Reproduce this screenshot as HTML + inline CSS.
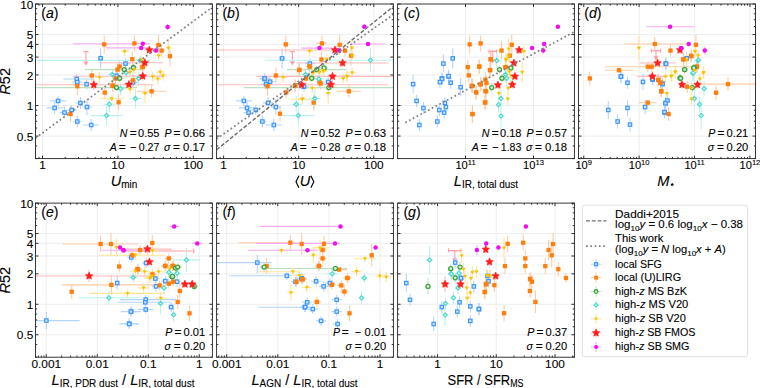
<!DOCTYPE html><html><head><meta charset="utf-8"><style>html,body{margin:0;padding:0;background:#fff;overflow:hidden}svg{display:block}</style></head><body><svg width="760" height="388" viewBox="0 0 760 388">
<style>
text{font-family:"Liberation Sans", sans-serif;fill:#000;stroke:#000;stroke-width:0.1px}
.tl{font-size:11.1px}
.gr{stroke:#ebebeb;stroke-width:0.9}
.tk{stroke:#000;stroke-width:0.8;fill:none}
.fr{stroke:#222;stroke-width:0.9;fill:none}
.al{font-size:14.6px}
.an{font-size:10.6px}
.pl{font-size:14.1px;font-style:italic}
.lg{font-size:10.4px}
.dt{stroke:#808080;stroke-width:1.75;stroke-dasharray:1.7 2.6;fill:none}
.ds{stroke:#6e6e6e;stroke-width:1.4;stroke-dasharray:3.9 1.9;fill:none}
.it{font-style:italic}
</style>
<rect width="760" height="388" fill="#fff"/>
<line x1="35.50" y1="136.08" x2="212.40" y2="136.08" class="gr"/>
<line x1="35.50" y1="105.52" x2="212.40" y2="105.52" class="gr"/>
<line x1="35.50" y1="74.96" x2="212.40" y2="74.96" class="gr"/>
<line x1="35.50" y1="57.08" x2="212.40" y2="57.08" class="gr"/>
<line x1="35.50" y1="44.40" x2="212.40" y2="44.40" class="gr"/>
<line x1="35.50" y1="34.56" x2="212.40" y2="34.56" class="gr"/>
<line x1="42.50" y1="4.00" x2="42.50" y2="158.60" class="gr"/>
<line x1="117.90" y1="4.00" x2="117.90" y2="158.60" class="gr"/>
<line x1="193.30" y1="4.00" x2="193.30" y2="158.60" class="gr"/>
<line x1="216.60" y1="136.08" x2="393.40" y2="136.08" class="gr"/>
<line x1="216.60" y1="105.52" x2="393.40" y2="105.52" class="gr"/>
<line x1="216.60" y1="74.96" x2="393.40" y2="74.96" class="gr"/>
<line x1="216.60" y1="57.08" x2="393.40" y2="57.08" class="gr"/>
<line x1="216.60" y1="44.40" x2="393.40" y2="44.40" class="gr"/>
<line x1="216.60" y1="34.56" x2="393.40" y2="34.56" class="gr"/>
<line x1="223.60" y1="4.00" x2="223.60" y2="158.60" class="gr"/>
<line x1="298.70" y1="4.00" x2="298.70" y2="158.60" class="gr"/>
<line x1="373.80" y1="4.00" x2="373.80" y2="158.60" class="gr"/>
<line x1="397.60" y1="136.08" x2="574.40" y2="136.08" class="gr"/>
<line x1="397.60" y1="105.52" x2="574.40" y2="105.52" class="gr"/>
<line x1="397.60" y1="74.96" x2="574.40" y2="74.96" class="gr"/>
<line x1="397.60" y1="57.08" x2="574.40" y2="57.08" class="gr"/>
<line x1="397.60" y1="44.40" x2="574.40" y2="44.40" class="gr"/>
<line x1="397.60" y1="34.56" x2="574.40" y2="34.56" class="gr"/>
<line x1="465.50" y1="4.00" x2="465.50" y2="158.60" class="gr"/>
<line x1="533.50" y1="4.00" x2="533.50" y2="158.60" class="gr"/>
<line x1="578.50" y1="136.08" x2="755.50" y2="136.08" class="gr"/>
<line x1="578.50" y1="105.52" x2="755.50" y2="105.52" class="gr"/>
<line x1="578.50" y1="74.96" x2="755.50" y2="74.96" class="gr"/>
<line x1="578.50" y1="57.08" x2="755.50" y2="57.08" class="gr"/>
<line x1="578.50" y1="44.40" x2="755.50" y2="44.40" class="gr"/>
<line x1="578.50" y1="34.56" x2="755.50" y2="34.56" class="gr"/>
<line x1="583.75" y1="4.00" x2="583.75" y2="158.60" class="gr"/>
<line x1="639.15" y1="4.00" x2="639.15" y2="158.60" class="gr"/>
<line x1="694.55" y1="4.00" x2="694.55" y2="158.60" class="gr"/>
<line x1="749.95" y1="4.00" x2="749.95" y2="158.60" class="gr"/>
<line x1="35.50" y1="334.75" x2="212.40" y2="334.75" class="gr"/>
<line x1="35.50" y1="304.29" x2="212.40" y2="304.29" class="gr"/>
<line x1="35.50" y1="273.83" x2="212.40" y2="273.83" class="gr"/>
<line x1="35.50" y1="256.01" x2="212.40" y2="256.01" class="gr"/>
<line x1="35.50" y1="243.37" x2="212.40" y2="243.37" class="gr"/>
<line x1="35.50" y1="233.56" x2="212.40" y2="233.56" class="gr"/>
<line x1="46.25" y1="203.10" x2="46.25" y2="357.20" class="gr"/>
<line x1="97.25" y1="203.10" x2="97.25" y2="357.20" class="gr"/>
<line x1="148.25" y1="203.10" x2="148.25" y2="357.20" class="gr"/>
<line x1="199.25" y1="203.10" x2="199.25" y2="357.20" class="gr"/>
<line x1="216.60" y1="334.75" x2="393.40" y2="334.75" class="gr"/>
<line x1="216.60" y1="304.29" x2="393.40" y2="304.29" class="gr"/>
<line x1="216.60" y1="273.83" x2="393.40" y2="273.83" class="gr"/>
<line x1="216.60" y1="256.01" x2="393.40" y2="256.01" class="gr"/>
<line x1="216.60" y1="243.37" x2="393.40" y2="243.37" class="gr"/>
<line x1="216.60" y1="233.56" x2="393.40" y2="233.56" class="gr"/>
<line x1="226.70" y1="203.10" x2="226.70" y2="357.20" class="gr"/>
<line x1="277.80" y1="203.10" x2="277.80" y2="357.20" class="gr"/>
<line x1="328.90" y1="203.10" x2="328.90" y2="357.20" class="gr"/>
<line x1="380.00" y1="203.10" x2="380.00" y2="357.20" class="gr"/>
<line x1="397.60" y1="334.75" x2="574.40" y2="334.75" class="gr"/>
<line x1="397.60" y1="304.29" x2="574.40" y2="304.29" class="gr"/>
<line x1="397.60" y1="273.83" x2="574.40" y2="273.83" class="gr"/>
<line x1="397.60" y1="256.01" x2="574.40" y2="256.01" class="gr"/>
<line x1="397.60" y1="243.37" x2="574.40" y2="243.37" class="gr"/>
<line x1="397.60" y1="233.56" x2="574.40" y2="233.56" class="gr"/>
<line x1="437.50" y1="203.10" x2="437.50" y2="357.20" class="gr"/>
<line x1="496.25" y1="203.10" x2="496.25" y2="357.20" class="gr"/>
<line x1="555.00" y1="203.10" x2="555.00" y2="357.20" class="gr"/>
<clipPath id="cpa"><rect x="35.50" y="4.00" width="176.90" height="154.60"/></clipPath>
<g clip-path="url(#cpa)">
<path d="M83.40 51.60h5M85.90 51.60V62.80" stroke="#ff9ea6" stroke-width="1.1" fill="none"/><path d="M83.30 61.50h5.2L85.90 65.80Z" fill="#ff9ea6"/>
<path d="M63.40 79.00H94.00M76.70 74.00V84.00" stroke="#b3d5fd" stroke-width="1.1" fill="none"/>
<path d="M72.30 82.10H82.30M77.30 77.10V87.10" stroke="#b3d5fd" stroke-width="1.1" fill="none"/>
<path d="M81.60 84.20H91.60M86.60 79.20V89.20" stroke="#b3d5fd" stroke-width="1.1" fill="none"/>
<path d="M50.10 100.90H66.10M58.10 95.90V105.90" stroke="#b3d5fd" stroke-width="1.1" fill="none"/>
<path d="M46.60 107.90H62.60M54.60 101.90V113.90" stroke="#b3d5fd" stroke-width="1.1" fill="none"/>
<path d="M59.50 112.60H69.50M64.50 106.60V118.60" stroke="#b3d5fd" stroke-width="1.1" fill="none"/>
<path d="M66.70 110.00H76.70M71.70 105.00V115.00" stroke="#b3d5fd" stroke-width="1.1" fill="none"/>
<path d="M75.40 103.00H85.40M80.40 97.00V109.00" stroke="#b3d5fd" stroke-width="1.1" fill="none"/>
<path d="M82.00 107.00H92.00M87.00 99.00V115.00" stroke="#b3d5fd" stroke-width="1.1" fill="none"/>
<path d="M73.30 121.50H81.30M77.30 115.50V127.50" stroke="#b3d5fd" stroke-width="1.1" fill="none"/>
<path d="M83.20 125.00H99.20M91.20 119.00V131.00" stroke="#b3d5fd" stroke-width="1.1" fill="none"/>
<path d="M97.60 58.20H103.60M100.60 48.20V68.20" stroke="#b3d5fd" stroke-width="1.1" fill="none"/>
<path d="M120.50 63.60H130.50M125.50 58.60V68.60" stroke="#b3d5fd" stroke-width="1.1" fill="none"/>
<path d="M128.00 82.40H138.00M133.00 77.40V87.40" stroke="#b3d5fd" stroke-width="1.1" fill="none"/>
<path d="M111.50 75.80H121.50M116.50 70.80V80.80" stroke="#b3d5fd" stroke-width="1.1" fill="none"/>
<path d="M101.20 44.40H107.20M104.20 35.40V53.40" stroke="#ffcaa3" stroke-width="1.1" fill="none"/>
<path d="M131.40 43.40H137.40M134.40 35.40V51.40" stroke="#ffcaa3" stroke-width="1.1" fill="none"/>
<path d="M155.50 45.00H161.50M158.50 35.00V55.00" stroke="#ffcaa3" stroke-width="1.1" fill="none"/>
<path d="M158.60 50.60H164.60M161.60 44.60V56.60" stroke="#ffcaa3" stroke-width="1.1" fill="none"/>
<path d="M168.00 56.20H172.00M170.00 46.20V66.20" stroke="#ffcaa3" stroke-width="1.1" fill="none"/>
<path d="M130.30 59.20H134.30M132.30 51.20V67.20" stroke="#ffcaa3" stroke-width="1.1" fill="none"/>
<path d="M139.60 67.00H145.60M142.60 61.00V73.00" stroke="#ffcaa3" stroke-width="1.1" fill="none"/>
<path d="M88.80 75.50H94.80M91.80 69.50V81.50" stroke="#ffcaa3" stroke-width="1.1" fill="none"/>
<path d="M75.30 86.20H79.30M77.30 77.20V95.20" stroke="#ffcaa3" stroke-width="1.1" fill="none"/>
<path d="M101.80 92.60H107.80M104.80 86.60V98.60" stroke="#ffcaa3" stroke-width="1.1" fill="none"/>
<path d="M109.60 85.80H115.60M112.60 79.80V91.80" stroke="#ffcaa3" stroke-width="1.1" fill="none"/>
<path d="M116.60 102.30H120.60M118.60 94.30V110.30" stroke="#ffcaa3" stroke-width="1.1" fill="none"/>
<path d="M68.50 114.10H72.50M70.50 106.10V122.10" stroke="#ffcaa3" stroke-width="1.1" fill="none"/>
<path d="M116.60 66.50H122.60M119.60 60.50V72.50" stroke="#ffcaa3" stroke-width="1.1" fill="none"/>
<path d="M114.50 69.60H120.50M117.50 63.60V75.60" stroke="#ffcaa3" stroke-width="1.1" fill="none"/>
<path d="M139.70 67.10H145.70M142.70 61.10V73.10" stroke="#ffcaa3" stroke-width="1.1" fill="none"/>
<path d="M130.00 80.30H136.00M133.00 74.30V86.30" stroke="#ffcaa3" stroke-width="1.1" fill="none"/>
<path d="M112.50 78.50H118.50M115.50 72.50V84.50" stroke="#ffcaa3" stroke-width="1.1" fill="none"/>
<path d="M109.80 85.50H115.80M112.80 79.50V91.50" stroke="#ffcaa3" stroke-width="1.1" fill="none"/>
<path d="M136.60 91.30H166.60M151.60 85.30V97.30" stroke="#ffcaa3" stroke-width="1.1" fill="none"/>
<path d="M107.40 74.40H117.40M112.40 68.40V80.40" stroke="#bbf2ec" stroke-width="1.1" fill="none"/>
<path d="M35.00 60.40H150.00M140.00 57.00V64.00" stroke="#bbf2ec" stroke-width="1.1" fill="none"/>
<path d="M121.20 72.70H131.20M126.20 66.70V78.70" stroke="#bbf2ec" stroke-width="1.1" fill="none"/>
<path d="M133.60 78.50H143.60M138.60 72.50V84.50" stroke="#bbf2ec" stroke-width="1.1" fill="none"/>
<path d="M115.60 88.80H125.60M120.60 82.80V94.80" stroke="#bbf2ec" stroke-width="1.1" fill="none"/>
<path d="M129.50 98.50H141.50M135.50 88.50V108.50" stroke="#bbf2ec" stroke-width="1.1" fill="none"/>
<path d="M103.30 104.30H115.30M109.30 96.30V112.30" stroke="#bbf2ec" stroke-width="1.1" fill="none"/>
<path d="M90.60 115.60H122.60M106.60 105.60V125.60" stroke="#bbf2ec" stroke-width="1.1" fill="none"/>
<path d="M84.80 69.60H141.60M124.20 66.00V73.00" stroke="#bde0bd" stroke-width="1.1" fill="none"/>
<path d="M129.40 67.50H137.40M133.40 63.50V71.50" stroke="#bde0bd" stroke-width="1.1" fill="none"/>
<path d="M115.60 78.30H123.60M119.60 74.30V82.30" stroke="#bde0bd" stroke-width="1.1" fill="none"/>
<path d="M35.00 87.60H137.00M116.50 84.00V91.00" stroke="#bde0bd" stroke-width="1.1" fill="none"/>
<path d="M120.70 51.60H128.70M124.70 46.60V56.60" stroke="#fde598" stroke-width="1.1" fill="none"/>
<path d="M166.40 48.10H170.40M168.40 39.10V57.10" stroke="#fde598" stroke-width="1.1" fill="none"/>
<path d="M154.70 55.70H162.70M158.70 50.70V60.70" stroke="#fde598" stroke-width="1.1" fill="none"/>
<path d="M137.20 59.90H145.20M141.20 54.90V64.90" stroke="#fde598" stroke-width="1.1" fill="none"/>
<path d="M156.20 72.30H164.20M160.20 67.30V77.30" stroke="#fde598" stroke-width="1.1" fill="none"/>
<path d="M95.40 77.50H103.40M99.40 72.50V82.50" stroke="#fde598" stroke-width="1.1" fill="none"/>
<path d="M99.80 98.80H123.80M111.80 94.80V102.80" stroke="#fde598" stroke-width="1.1" fill="none"/>
<path d="M130.00 69.60H138.00M134.00 64.60V74.60" stroke="#fde598" stroke-width="1.1" fill="none"/>
<path d="M148.60 76.80H156.60M152.60 71.80V81.80" stroke="#fde598" stroke-width="1.1" fill="none"/>
<path d="M153.80 78.90H161.80M157.80 73.90V83.90" stroke="#fde598" stroke-width="1.1" fill="none"/>
<path d="M159.00 75.80H167.00M163.00 70.80V80.80" stroke="#fde598" stroke-width="1.1" fill="none"/>
<path d="M126.00 72.30H134.00M130.00 67.30V77.30" stroke="#fde598" stroke-width="1.1" fill="none"/>
<path d="M142.00 93.40H148.00M145.00 83.40V103.40" stroke="#fde598" stroke-width="1.1" fill="none"/>
<path d="M126.00 89.20H134.00M130.00 84.20V94.20" stroke="#fde598" stroke-width="1.1" fill="none"/>
<path d="M144.40 50.00H154.40M149.40 46.00V54.00" stroke="#ffbaba" stroke-width="1.1" fill="none"/>
<path d="M99.00 62.80H163.00M144.80 58.00V67.00" stroke="#ffbaba" stroke-width="1.1" fill="none"/>
<path d="M72.90 76.20H164.00M142.70 71.00V81.00" stroke="#ffbaba" stroke-width="1.1" fill="none"/>
<path d="M123.90 84.50H133.90M128.90 80.50V88.50" stroke="#ffbaba" stroke-width="1.1" fill="none"/>
<path d="M35.00 84.80H153.50M93.80 79.00V90.00" stroke="#ffbaba" stroke-width="1.1" fill="none"/>
<path d="M164.60 27.00H170.60M167.60 24.00V30.00" stroke="#f8aaf8" stroke-width="1.1" fill="none"/>
<path d="M72.90 43.80H150.00M142.80 42.00V46.00" stroke="#f8aaf8" stroke-width="1.1" fill="none"/>
<path d="M106.00 47.90H150.00M141.20 46.00V50.00" stroke="#f8aaf8" stroke-width="1.1" fill="none"/>
<path d="M153.00 50.60H159.00M156.00 47.60V53.60" stroke="#f8aaf8" stroke-width="1.1" fill="none"/>
<rect x="75.00" y="77.30" width="3.40" height="3.40" fill="#cfe4ff" stroke="#3f97fb" stroke-width="1.2"/>
<rect x="75.60" y="80.40" width="3.40" height="3.40" fill="#cfe4ff" stroke="#3f97fb" stroke-width="1.2"/>
<rect x="84.90" y="82.50" width="3.40" height="3.40" fill="#cfe4ff" stroke="#3f97fb" stroke-width="1.2"/>
<rect x="56.40" y="99.20" width="3.40" height="3.40" fill="#cfe4ff" stroke="#3f97fb" stroke-width="1.2"/>
<rect x="52.90" y="106.20" width="3.40" height="3.40" fill="#cfe4ff" stroke="#3f97fb" stroke-width="1.2"/>
<rect x="62.80" y="110.90" width="3.40" height="3.40" fill="#cfe4ff" stroke="#3f97fb" stroke-width="1.2"/>
<rect x="70.00" y="108.30" width="3.40" height="3.40" fill="#cfe4ff" stroke="#3f97fb" stroke-width="1.2"/>
<rect x="78.70" y="101.30" width="3.40" height="3.40" fill="#cfe4ff" stroke="#3f97fb" stroke-width="1.2"/>
<rect x="85.30" y="105.30" width="3.40" height="3.40" fill="#cfe4ff" stroke="#3f97fb" stroke-width="1.2"/>
<rect x="75.60" y="119.80" width="3.40" height="3.40" fill="#cfe4ff" stroke="#3f97fb" stroke-width="1.2"/>
<rect x="89.50" y="123.30" width="3.40" height="3.40" fill="#cfe4ff" stroke="#3f97fb" stroke-width="1.2"/>
<rect x="98.90" y="56.50" width="3.40" height="3.40" fill="#cfe4ff" stroke="#3f97fb" stroke-width="1.2"/>
<rect x="123.80" y="61.90" width="3.40" height="3.40" fill="#cfe4ff" stroke="#3f97fb" stroke-width="1.2"/>
<rect x="131.30" y="80.70" width="3.40" height="3.40" fill="#cfe4ff" stroke="#3f97fb" stroke-width="1.2"/>
<rect x="114.80" y="74.10" width="3.40" height="3.40" fill="#cfe4ff" stroke="#3f97fb" stroke-width="1.2"/>
<rect x="102.05" y="42.25" width="4.30" height="4.30" fill="#ff7f0e"/>
<rect x="132.25" y="41.25" width="4.30" height="4.30" fill="#ff7f0e"/>
<rect x="156.35" y="42.85" width="4.30" height="4.30" fill="#ff7f0e"/>
<rect x="159.45" y="48.45" width="4.30" height="4.30" fill="#ff7f0e"/>
<rect x="167.85" y="54.05" width="4.30" height="4.30" fill="#ff7f0e"/>
<rect x="130.15" y="57.05" width="4.30" height="4.30" fill="#ff7f0e"/>
<rect x="140.45" y="64.85" width="4.30" height="4.30" fill="#ff7f0e"/>
<rect x="89.65" y="73.35" width="4.30" height="4.30" fill="#ff7f0e"/>
<rect x="75.15" y="84.05" width="4.30" height="4.30" fill="#ff7f0e"/>
<rect x="102.65" y="90.45" width="4.30" height="4.30" fill="#ff7f0e"/>
<rect x="110.45" y="83.65" width="4.30" height="4.30" fill="#ff7f0e"/>
<rect x="116.45" y="100.15" width="4.30" height="4.30" fill="#ff7f0e"/>
<rect x="68.35" y="111.95" width="4.30" height="4.30" fill="#ff7f0e"/>
<rect x="117.45" y="64.35" width="4.30" height="4.30" fill="#ff7f0e"/>
<rect x="115.35" y="67.45" width="4.30" height="4.30" fill="#ff7f0e"/>
<rect x="140.55" y="64.95" width="4.30" height="4.30" fill="#ff7f0e"/>
<rect x="130.85" y="78.15" width="4.30" height="4.30" fill="#ff7f0e"/>
<rect x="113.35" y="76.35" width="4.30" height="4.30" fill="#ff7f0e"/>
<rect x="110.65" y="83.35" width="4.30" height="4.30" fill="#ff7f0e"/>
<rect x="149.45" y="89.15" width="4.30" height="4.30" fill="#ff7f0e"/>
<path d="M112.40 72.30L114.50 74.40L112.40 76.50L110.30 74.40Z" fill="#d8f7f3" stroke="#4fd9cc" stroke-width="1.2"/>
<path d="M140.00 58.30L142.10 60.40L140.00 62.50L137.90 60.40Z" fill="#d8f7f3" stroke="#4fd9cc" stroke-width="1.2"/>
<path d="M126.20 70.60L128.30 72.70L126.20 74.80L124.10 72.70Z" fill="#d8f7f3" stroke="#4fd9cc" stroke-width="1.2"/>
<path d="M138.60 76.40L140.70 78.50L138.60 80.60L136.50 78.50Z" fill="#d8f7f3" stroke="#4fd9cc" stroke-width="1.2"/>
<path d="M120.60 86.70L122.70 88.80L120.60 90.90L118.50 88.80Z" fill="#d8f7f3" stroke="#4fd9cc" stroke-width="1.2"/>
<path d="M135.50 96.40L137.60 98.50L135.50 100.60L133.40 98.50Z" fill="#d8f7f3" stroke="#4fd9cc" stroke-width="1.2"/>
<path d="M109.30 102.20L111.40 104.30L109.30 106.40L107.20 104.30Z" fill="#d8f7f3" stroke="#4fd9cc" stroke-width="1.2"/>
<path d="M106.60 113.50L108.70 115.60L106.60 117.70L104.50 115.60Z" fill="#d8f7f3" stroke="#4fd9cc" stroke-width="1.2"/>
<circle cx="124.20" cy="69.60" r="2.05" fill="#d5ecd5" stroke="#3fa33f" stroke-width="1.3"/>
<circle cx="133.40" cy="67.50" r="2.05" fill="#d5ecd5" stroke="#3fa33f" stroke-width="1.3"/>
<circle cx="119.60" cy="78.30" r="2.05" fill="#d5ecd5" stroke="#3fa33f" stroke-width="1.3"/>
<circle cx="116.50" cy="87.60" r="2.05" fill="#d5ecd5" stroke="#3fa33f" stroke-width="1.3"/>
<path d="M122.70 50.10L126.70 50.10L124.70 53.60Z" fill="#f5c400"/>
<path d="M166.40 46.60L170.40 46.60L168.40 50.10Z" fill="#f5c400"/>
<path d="M156.70 54.20L160.70 54.20L158.70 57.70Z" fill="#f5c400"/>
<path d="M139.20 58.40L143.20 58.40L141.20 61.90Z" fill="#f5c400"/>
<path d="M158.20 70.80L162.20 70.80L160.20 74.30Z" fill="#f5c400"/>
<path d="M97.40 76.00L101.40 76.00L99.40 79.50Z" fill="#f5c400"/>
<path d="M109.80 97.30L113.80 97.30L111.80 100.80Z" fill="#f5c400"/>
<path d="M132.00 68.10L136.00 68.10L134.00 71.60Z" fill="#f5c400"/>
<path d="M150.60 75.30L154.60 75.30L152.60 78.80Z" fill="#f5c400"/>
<path d="M155.80 77.40L159.80 77.40L157.80 80.90Z" fill="#f5c400"/>
<path d="M161.00 74.30L165.00 74.30L163.00 77.80Z" fill="#f5c400"/>
<path d="M128.00 70.80L132.00 70.80L130.00 74.30Z" fill="#f5c400"/>
<path d="M143.00 91.90L147.00 91.90L145.00 95.40Z" fill="#f5c400"/>
<path d="M128.00 87.70L132.00 87.70L130.00 91.20Z" fill="#f5c400"/>
<polygon points="149.40,46.00 150.58,48.38 153.20,48.76 151.30,50.62 151.75,53.24 149.40,52.00 147.05,53.24 147.50,50.62 145.60,48.76 148.22,48.38" fill="#ff1f1f" stroke="#ff1f1f" stroke-width="0.5" stroke-linejoin="round"/>
<polygon points="144.80,58.80 145.98,61.18 148.60,61.56 146.70,63.42 147.15,66.04 144.80,64.80 142.45,66.04 142.90,63.42 141.00,61.56 143.62,61.18" fill="#ff1f1f" stroke="#ff1f1f" stroke-width="0.5" stroke-linejoin="round"/>
<polygon points="142.70,72.20 143.88,74.58 146.50,74.96 144.60,76.82 145.05,79.44 142.70,78.20 140.35,79.44 140.80,76.82 138.90,74.96 141.52,74.58" fill="#ff1f1f" stroke="#ff1f1f" stroke-width="0.5" stroke-linejoin="round"/>
<polygon points="128.90,80.50 130.08,82.88 132.70,83.26 130.80,85.12 131.25,87.74 128.90,86.50 126.55,87.74 127.00,85.12 125.10,83.26 127.72,82.88" fill="#ff1f1f" stroke="#ff1f1f" stroke-width="0.5" stroke-linejoin="round"/>
<polygon points="93.80,80.80 94.98,83.18 97.60,83.56 95.70,85.42 96.15,88.04 93.80,86.80 91.45,88.04 91.90,85.42 90.00,83.56 92.62,83.18" fill="#ff1f1f" stroke="#ff1f1f" stroke-width="0.5" stroke-linejoin="round"/>
<circle cx="167.60" cy="27.00" r="2.25" fill="#ee11ee"/>
<circle cx="142.80" cy="43.80" r="2.25" fill="#ee11ee"/>
<circle cx="141.20" cy="47.90" r="2.25" fill="#ee11ee"/>
<circle cx="156.00" cy="50.60" r="2.25" fill="#ee11ee"/>
<line x1="35.50" y1="138.11" x2="212.40" y2="7.11" class="dt"/>
</g>
<clipPath id="cpb"><rect x="216.60" y="4.00" width="176.80" height="154.60"/></clipPath>
<g clip-path="url(#cpb)">
<path d="M289.90 51.60h5M292.40 51.60V62.50" stroke="#ff9ea6" stroke-width="1.1" fill="none"/><path d="M289.80 61.20h5.2L292.40 65.50Z" fill="#ff9ea6"/>
<path d="M259.50 79.00H269.50M264.50 74.00V84.00" stroke="#b3d5fd" stroke-width="1.1" fill="none"/>
<path d="M265.10 81.70H275.10M270.10 76.70V86.70" stroke="#b3d5fd" stroke-width="1.1" fill="none"/>
<path d="M261.00 84.20H271.00M266.00 79.20V89.20" stroke="#b3d5fd" stroke-width="1.1" fill="none"/>
<path d="M235.90 100.90H251.90M243.90 95.90V105.90" stroke="#b3d5fd" stroke-width="1.1" fill="none"/>
<path d="M239.00 107.90H255.00M247.00 101.90V113.90" stroke="#b3d5fd" stroke-width="1.1" fill="none"/>
<path d="M243.60 112.60H253.60M248.60 106.60V118.60" stroke="#b3d5fd" stroke-width="1.1" fill="none"/>
<path d="M250.80 110.00H260.80M255.80 105.00V115.00" stroke="#b3d5fd" stroke-width="1.1" fill="none"/>
<path d="M263.00 102.90H273.00M268.00 96.90V108.90" stroke="#b3d5fd" stroke-width="1.1" fill="none"/>
<path d="M270.90 107.10H280.90M275.90 99.10V115.10" stroke="#b3d5fd" stroke-width="1.1" fill="none"/>
<path d="M258.40 121.50H266.40M262.40 115.50V127.50" stroke="#b3d5fd" stroke-width="1.1" fill="none"/>
<path d="M265.80 125.00H281.80M273.80 119.00V131.00" stroke="#b3d5fd" stroke-width="1.1" fill="none"/>
<path d="M279.10 58.40H285.10M282.10 48.40V68.40" stroke="#b3d5fd" stroke-width="1.1" fill="none"/>
<path d="M304.80 63.60H314.80M309.80 58.60V68.60" stroke="#b3d5fd" stroke-width="1.1" fill="none"/>
<path d="M323.20 82.00H333.20M328.20 77.00V87.00" stroke="#b3d5fd" stroke-width="1.1" fill="none"/>
<path d="M299.00 86.70H309.00M304.00 81.70V91.70" stroke="#b3d5fd" stroke-width="1.1" fill="none"/>
<path d="M259.70 78.40H269.70M264.70 73.40V83.40" stroke="#b3d5fd" stroke-width="1.1" fill="none"/>
<path d="M282.80 44.40H288.80M285.80 35.40V53.40" stroke="#ffcaa3" stroke-width="1.1" fill="none"/>
<path d="M317.00 43.40H327.00M322.00 35.40V51.40" stroke="#ffcaa3" stroke-width="1.1" fill="none"/>
<path d="M336.70 44.80H342.70M339.70 34.80V54.80" stroke="#ffcaa3" stroke-width="1.1" fill="none"/>
<path d="M341.90 50.60H347.90M344.90 44.60V56.60" stroke="#ffcaa3" stroke-width="1.1" fill="none"/>
<path d="M349.10 55.70H353.10M351.10 45.70V65.70" stroke="#ffcaa3" stroke-width="1.1" fill="none"/>
<path d="M319.50 59.50H323.50M321.50 51.50V67.50" stroke="#ffcaa3" stroke-width="1.1" fill="none"/>
<path d="M306.80 66.50H312.80M309.80 60.50V72.50" stroke="#ffcaa3" stroke-width="1.1" fill="none"/>
<path d="M273.90 75.50H277.90M275.90 67.50V83.50" stroke="#ffcaa3" stroke-width="1.1" fill="none"/>
<path d="M296.20 69.90H302.20M299.20 63.90V75.90" stroke="#ffcaa3" stroke-width="1.1" fill="none"/>
<path d="M265.60 86.20H269.60M267.60 76.20V96.20" stroke="#ffcaa3" stroke-width="1.1" fill="none"/>
<path d="M292.10 85.80H298.10M295.10 79.80V91.80" stroke="#ffcaa3" stroke-width="1.1" fill="none"/>
<path d="M283.20 92.40H289.20M286.20 86.40V98.40" stroke="#ffcaa3" stroke-width="1.1" fill="none"/>
<path d="M278.00 113.70H282.00M280.00 105.70V121.70" stroke="#ffcaa3" stroke-width="1.1" fill="none"/>
<path d="M306.60 66.50H312.60M309.60 60.50V72.50" stroke="#ffcaa3" stroke-width="1.1" fill="none"/>
<path d="M296.30 70.00H302.30M299.30 64.00V76.00" stroke="#ffcaa3" stroke-width="1.1" fill="none"/>
<path d="M303.10 78.50H309.10M306.10 72.50V84.50" stroke="#ffcaa3" stroke-width="1.1" fill="none"/>
<path d="M316.50 82.00H322.50M319.50 76.00V88.00" stroke="#ffcaa3" stroke-width="1.1" fill="none"/>
<path d="M317.60 83.40H323.60M320.60 77.40V89.40" stroke="#ffcaa3" stroke-width="1.1" fill="none"/>
<path d="M292.20 85.50H298.20M295.20 79.50V91.50" stroke="#ffcaa3" stroke-width="1.1" fill="none"/>
<path d="M336.80 91.30H360.80M348.80 85.30V97.30" stroke="#ffcaa3" stroke-width="1.1" fill="none"/>
<path d="M311.70 102.60H315.70M313.70 94.60V110.60" stroke="#ffcaa3" stroke-width="1.1" fill="none"/>
<path d="M264.50 60.30H394.00M370.50 48.50V71.20" stroke="#bbf2ec" stroke-width="1.1" fill="none"/>
<path d="M300.50 74.40H310.50M305.50 68.40V80.40" stroke="#bbf2ec" stroke-width="1.1" fill="none"/>
<path d="M313.90 78.90H323.90M318.90 72.90V84.90" stroke="#bbf2ec" stroke-width="1.1" fill="none"/>
<path d="M308.80 98.50H320.80M314.80 88.50V108.50" stroke="#bbf2ec" stroke-width="1.1" fill="none"/>
<path d="M290.20 104.30H302.20M296.20 96.30V112.30" stroke="#bbf2ec" stroke-width="1.1" fill="none"/>
<path d="M282.30 115.60H314.30M298.30 105.60V125.60" stroke="#bbf2ec" stroke-width="1.1" fill="none"/>
<path d="M286.80 69.60H346.80M316.80 65.60V73.60" stroke="#bde0bd" stroke-width="1.1" fill="none"/>
<path d="M320.10 68.00H328.10M324.10 64.00V72.00" stroke="#bde0bd" stroke-width="1.1" fill="none"/>
<path d="M307.70 78.30H315.70M311.70 74.30V82.30" stroke="#bde0bd" stroke-width="1.1" fill="none"/>
<path d="M243.80 87.60H413.80M328.80 83.60V91.60" stroke="#bde0bd" stroke-width="1.1" fill="none"/>
<path d="M305.80 51.20H313.80M309.80 46.20V56.20" stroke="#fde598" stroke-width="1.1" fill="none"/>
<path d="M349.90 48.10H353.90M351.90 39.10V57.10" stroke="#fde598" stroke-width="1.1" fill="none"/>
<path d="M322.70 59.20H330.70M326.70 54.20V64.20" stroke="#fde598" stroke-width="1.1" fill="none"/>
<path d="M348.10 72.70H356.10M352.10 67.70V77.70" stroke="#fde598" stroke-width="1.1" fill="none"/>
<path d="M309.30 72.70H317.30M313.30 67.70V77.70" stroke="#fde598" stroke-width="1.1" fill="none"/>
<path d="M319.60 71.20H327.60M323.60 66.20V76.20" stroke="#fde598" stroke-width="1.1" fill="none"/>
<path d="M343.40 76.40H351.40M347.40 71.40V81.40" stroke="#fde598" stroke-width="1.1" fill="none"/>
<path d="M339.20 78.40H347.20M343.20 73.40V83.40" stroke="#fde598" stroke-width="1.1" fill="none"/>
<path d="M279.10 77.50H287.10M283.10 72.50V82.50" stroke="#fde598" stroke-width="1.1" fill="none"/>
<path d="M290.30 99.20H314.30M302.30 95.20V103.20" stroke="#fde598" stroke-width="1.1" fill="none"/>
<path d="M347.90 55.80H355.90M351.90 50.80V60.80" stroke="#fde598" stroke-width="1.1" fill="none"/>
<path d="M342.80 76.20H350.80M346.80 71.20V81.20" stroke="#fde598" stroke-width="1.1" fill="none"/>
<path d="M319.00 70.60H327.00M323.00 65.60V75.60" stroke="#fde598" stroke-width="1.1" fill="none"/>
<path d="M309.10 72.70H317.10M313.10 67.70V77.70" stroke="#fde598" stroke-width="1.1" fill="none"/>
<path d="M315.50 72.30H323.50M319.50 67.30V77.30" stroke="#fde598" stroke-width="1.1" fill="none"/>
<path d="M308.30 88.20H316.30M312.30 83.20V93.20" stroke="#fde598" stroke-width="1.1" fill="none"/>
<path d="M325.20 93.40H331.20M328.20 83.40V103.40" stroke="#fde598" stroke-width="1.1" fill="none"/>
<path d="M298.40 99.10H306.40M302.40 94.10V104.10" stroke="#fde598" stroke-width="1.1" fill="none"/>
<path d="M216.00 50.00H340.00M335.00 46.00V54.00" stroke="#ffbaba" stroke-width="1.1" fill="none"/>
<path d="M296.60 63.00H388.60M342.60 59.00V67.00" stroke="#ffbaba" stroke-width="1.1" fill="none"/>
<path d="M256.50 76.40H408.50M332.50 71.40V81.40" stroke="#ffbaba" stroke-width="1.1" fill="none"/>
<path d="M325.90 84.50H335.90M330.90 80.50V88.50" stroke="#ffbaba" stroke-width="1.1" fill="none"/>
<path d="M215.70 84.80H387.70M301.70 79.80V89.80" stroke="#ffbaba" stroke-width="1.1" fill="none"/>
<path d="M361.30 26.80H367.30M364.30 23.80V29.80" stroke="#f8aaf8" stroke-width="1.1" fill="none"/>
<path d="M351.00 44.00H385.00M368.00 42.00V46.00" stroke="#f8aaf8" stroke-width="1.1" fill="none"/>
<path d="M301.50 48.10H337.50M319.50 46.10V50.10" stroke="#f8aaf8" stroke-width="1.1" fill="none"/>
<path d="M336.10 50.60H342.10M339.10 47.60V53.60" stroke="#f8aaf8" stroke-width="1.1" fill="none"/>
<rect x="262.80" y="77.30" width="3.40" height="3.40" fill="#cfe4ff" stroke="#3f97fb" stroke-width="1.2"/>
<rect x="268.40" y="80.00" width="3.40" height="3.40" fill="#cfe4ff" stroke="#3f97fb" stroke-width="1.2"/>
<rect x="264.30" y="82.50" width="3.40" height="3.40" fill="#cfe4ff" stroke="#3f97fb" stroke-width="1.2"/>
<rect x="242.20" y="99.20" width="3.40" height="3.40" fill="#cfe4ff" stroke="#3f97fb" stroke-width="1.2"/>
<rect x="245.30" y="106.20" width="3.40" height="3.40" fill="#cfe4ff" stroke="#3f97fb" stroke-width="1.2"/>
<rect x="246.90" y="110.90" width="3.40" height="3.40" fill="#cfe4ff" stroke="#3f97fb" stroke-width="1.2"/>
<rect x="254.10" y="108.30" width="3.40" height="3.40" fill="#cfe4ff" stroke="#3f97fb" stroke-width="1.2"/>
<rect x="266.30" y="101.20" width="3.40" height="3.40" fill="#cfe4ff" stroke="#3f97fb" stroke-width="1.2"/>
<rect x="274.20" y="105.40" width="3.40" height="3.40" fill="#cfe4ff" stroke="#3f97fb" stroke-width="1.2"/>
<rect x="260.70" y="119.80" width="3.40" height="3.40" fill="#cfe4ff" stroke="#3f97fb" stroke-width="1.2"/>
<rect x="272.10" y="123.30" width="3.40" height="3.40" fill="#cfe4ff" stroke="#3f97fb" stroke-width="1.2"/>
<rect x="280.40" y="56.70" width="3.40" height="3.40" fill="#cfe4ff" stroke="#3f97fb" stroke-width="1.2"/>
<rect x="308.10" y="61.90" width="3.40" height="3.40" fill="#cfe4ff" stroke="#3f97fb" stroke-width="1.2"/>
<rect x="326.50" y="80.30" width="3.40" height="3.40" fill="#cfe4ff" stroke="#3f97fb" stroke-width="1.2"/>
<rect x="302.30" y="85.00" width="3.40" height="3.40" fill="#cfe4ff" stroke="#3f97fb" stroke-width="1.2"/>
<rect x="263.00" y="76.70" width="3.40" height="3.40" fill="#cfe4ff" stroke="#3f97fb" stroke-width="1.2"/>
<rect x="283.65" y="42.25" width="4.30" height="4.30" fill="#ff7f0e"/>
<rect x="319.85" y="41.25" width="4.30" height="4.30" fill="#ff7f0e"/>
<rect x="337.55" y="42.65" width="4.30" height="4.30" fill="#ff7f0e"/>
<rect x="342.75" y="48.45" width="4.30" height="4.30" fill="#ff7f0e"/>
<rect x="348.95" y="53.55" width="4.30" height="4.30" fill="#ff7f0e"/>
<rect x="319.35" y="57.35" width="4.30" height="4.30" fill="#ff7f0e"/>
<rect x="307.65" y="64.35" width="4.30" height="4.30" fill="#ff7f0e"/>
<rect x="273.75" y="73.35" width="4.30" height="4.30" fill="#ff7f0e"/>
<rect x="297.05" y="67.75" width="4.30" height="4.30" fill="#ff7f0e"/>
<rect x="265.45" y="84.05" width="4.30" height="4.30" fill="#ff7f0e"/>
<rect x="292.95" y="83.65" width="4.30" height="4.30" fill="#ff7f0e"/>
<rect x="284.05" y="90.25" width="4.30" height="4.30" fill="#ff7f0e"/>
<rect x="277.85" y="111.55" width="4.30" height="4.30" fill="#ff7f0e"/>
<rect x="307.45" y="64.35" width="4.30" height="4.30" fill="#ff7f0e"/>
<rect x="297.15" y="67.85" width="4.30" height="4.30" fill="#ff7f0e"/>
<rect x="303.95" y="76.35" width="4.30" height="4.30" fill="#ff7f0e"/>
<rect x="317.35" y="79.85" width="4.30" height="4.30" fill="#ff7f0e"/>
<rect x="318.45" y="81.25" width="4.30" height="4.30" fill="#ff7f0e"/>
<rect x="293.05" y="83.35" width="4.30" height="4.30" fill="#ff7f0e"/>
<rect x="346.65" y="89.15" width="4.30" height="4.30" fill="#ff7f0e"/>
<rect x="311.55" y="100.45" width="4.30" height="4.30" fill="#ff7f0e"/>
<path d="M370.50 58.20L372.60 60.30L370.50 62.40L368.40 60.30Z" fill="#d8f7f3" stroke="#4fd9cc" stroke-width="1.2"/>
<path d="M305.50 72.30L307.60 74.40L305.50 76.50L303.40 74.40Z" fill="#d8f7f3" stroke="#4fd9cc" stroke-width="1.2"/>
<path d="M318.90 76.80L321.00 78.90L318.90 81.00L316.80 78.90Z" fill="#d8f7f3" stroke="#4fd9cc" stroke-width="1.2"/>
<path d="M314.80 96.40L316.90 98.50L314.80 100.60L312.70 98.50Z" fill="#d8f7f3" stroke="#4fd9cc" stroke-width="1.2"/>
<path d="M296.20 102.20L298.30 104.30L296.20 106.40L294.10 104.30Z" fill="#d8f7f3" stroke="#4fd9cc" stroke-width="1.2"/>
<path d="M298.30 113.50L300.40 115.60L298.30 117.70L296.20 115.60Z" fill="#d8f7f3" stroke="#4fd9cc" stroke-width="1.2"/>
<circle cx="316.80" cy="69.60" r="2.05" fill="#d5ecd5" stroke="#3fa33f" stroke-width="1.3"/>
<circle cx="324.10" cy="68.00" r="2.05" fill="#d5ecd5" stroke="#3fa33f" stroke-width="1.3"/>
<circle cx="311.70" cy="78.30" r="2.05" fill="#d5ecd5" stroke="#3fa33f" stroke-width="1.3"/>
<circle cx="328.80" cy="87.60" r="2.05" fill="#d5ecd5" stroke="#3fa33f" stroke-width="1.3"/>
<path d="M307.80 49.70L311.80 49.70L309.80 53.20Z" fill="#f5c400"/>
<path d="M349.90 46.60L353.90 46.60L351.90 50.10Z" fill="#f5c400"/>
<path d="M324.70 57.70L328.70 57.70L326.70 61.20Z" fill="#f5c400"/>
<path d="M350.10 71.20L354.10 71.20L352.10 74.70Z" fill="#f5c400"/>
<path d="M311.30 71.20L315.30 71.20L313.30 74.70Z" fill="#f5c400"/>
<path d="M321.60 69.70L325.60 69.70L323.60 73.20Z" fill="#f5c400"/>
<path d="M345.40 74.90L349.40 74.90L347.40 78.40Z" fill="#f5c400"/>
<path d="M341.20 76.90L345.20 76.90L343.20 80.40Z" fill="#f5c400"/>
<path d="M281.10 76.00L285.10 76.00L283.10 79.50Z" fill="#f5c400"/>
<path d="M300.30 97.70L304.30 97.70L302.30 101.20Z" fill="#f5c400"/>
<path d="M349.90 54.30L353.90 54.30L351.90 57.80Z" fill="#f5c400"/>
<path d="M344.80 74.70L348.80 74.70L346.80 78.20Z" fill="#f5c400"/>
<path d="M321.00 69.10L325.00 69.10L323.00 72.60Z" fill="#f5c400"/>
<path d="M311.10 71.20L315.10 71.20L313.10 74.70Z" fill="#f5c400"/>
<path d="M317.50 70.80L321.50 70.80L319.50 74.30Z" fill="#f5c400"/>
<path d="M310.30 86.70L314.30 86.70L312.30 90.20Z" fill="#f5c400"/>
<path d="M326.20 91.90L330.20 91.90L328.20 95.40Z" fill="#f5c400"/>
<path d="M300.40 97.60L304.40 97.60L302.40 101.10Z" fill="#f5c400"/>
<polygon points="335.00,46.00 336.18,48.38 338.80,48.76 336.90,50.62 337.35,53.24 335.00,52.00 332.65,53.24 333.10,50.62 331.20,48.76 333.82,48.38" fill="#ff1f1f" stroke="#ff1f1f" stroke-width="0.5" stroke-linejoin="round"/>
<polygon points="342.60,59.00 343.78,61.38 346.40,61.76 344.50,63.62 344.95,66.24 342.60,65.00 340.25,66.24 340.70,63.62 338.80,61.76 341.42,61.38" fill="#ff1f1f" stroke="#ff1f1f" stroke-width="0.5" stroke-linejoin="round"/>
<polygon points="332.50,72.40 333.68,74.78 336.30,75.16 334.40,77.02 334.85,79.64 332.50,78.40 330.15,79.64 330.60,77.02 328.70,75.16 331.32,74.78" fill="#ff1f1f" stroke="#ff1f1f" stroke-width="0.5" stroke-linejoin="round"/>
<polygon points="330.90,80.50 332.08,82.88 334.70,83.26 332.80,85.12 333.25,87.74 330.90,86.50 328.55,87.74 329.00,85.12 327.10,83.26 329.72,82.88" fill="#ff1f1f" stroke="#ff1f1f" stroke-width="0.5" stroke-linejoin="round"/>
<polygon points="301.70,80.80 302.88,83.18 305.50,83.56 303.60,85.42 304.05,88.04 301.70,86.80 299.35,88.04 299.80,85.42 297.90,83.56 300.52,83.18" fill="#ff1f1f" stroke="#ff1f1f" stroke-width="0.5" stroke-linejoin="round"/>
<circle cx="364.30" cy="26.80" r="2.25" fill="#ee11ee"/>
<circle cx="368.00" cy="44.00" r="2.25" fill="#ee11ee"/>
<circle cx="319.50" cy="48.10" r="2.25" fill="#ee11ee"/>
<circle cx="339.10" cy="50.60" r="2.25" fill="#ee11ee"/>
<line x1="216.60" y1="149.77" x2="393.40" y2="6.38" class="ds"/>
<line x1="216.60" y1="138.86" x2="393.40" y2="14.59" class="dt"/>
</g>
<clipPath id="cpc"><rect x="397.60" y="4.00" width="176.80" height="154.60"/></clipPath>
<g clip-path="url(#cpc)">
<path d="M490.30 51.40h5M492.80 51.40V60.50" stroke="#ff9ea6" stroke-width="1.1" fill="none"/><path d="M490.20 59.20h5.2L492.80 63.50Z" fill="#ff9ea6"/><path d="M489.00 51.40H496.60M489.00 49.40v4M496.60 49.40v4" stroke="#ff9ea6" stroke-width="1.1" fill="none"/>
<path d="M450.70 58.40H454.70M452.70 48.40V68.40" stroke="#b3d5fd" stroke-width="1.1" fill="none"/>
<path d="M441.40 63.60H445.40M443.40 54.60V72.60" stroke="#b3d5fd" stroke-width="1.1" fill="none"/>
<path d="M446.60 76.40H450.60M448.60 70.40V82.40" stroke="#b3d5fd" stroke-width="1.1" fill="none"/>
<path d="M440.00 78.40H444.00M442.00 72.40V84.40" stroke="#b3d5fd" stroke-width="1.1" fill="none"/>
<path d="M411.10 84.20H415.10M413.10 75.20V93.20" stroke="#b3d5fd" stroke-width="1.1" fill="none"/>
<path d="M440.00 79.00H444.00M442.00 73.00V85.00" stroke="#b3d5fd" stroke-width="1.1" fill="none"/>
<path d="M437.90 82.10H441.90M439.90 76.10V88.10" stroke="#b3d5fd" stroke-width="1.1" fill="none"/>
<path d="M446.60 76.10H450.60M448.60 70.10V82.10" stroke="#b3d5fd" stroke-width="1.1" fill="none"/>
<path d="M448.70 82.70H452.70M450.70 76.70V88.70" stroke="#b3d5fd" stroke-width="1.1" fill="none"/>
<path d="M458.60 87.20H462.60M460.60 78.20V96.20" stroke="#b3d5fd" stroke-width="1.1" fill="none"/>
<path d="M414.60 100.90H418.60M416.60 94.90V106.90" stroke="#b3d5fd" stroke-width="1.1" fill="none"/>
<path d="M421.40 108.10H425.40M423.40 102.10V114.10" stroke="#b3d5fd" stroke-width="1.1" fill="none"/>
<path d="M442.90 102.90H446.90M444.90 96.90V108.90" stroke="#b3d5fd" stroke-width="1.1" fill="none"/>
<path d="M443.90 107.10H447.90M445.90 101.10V113.10" stroke="#b3d5fd" stroke-width="1.1" fill="none"/>
<path d="M437.30 110.00H441.30M439.30 104.00V116.00" stroke="#b3d5fd" stroke-width="1.1" fill="none"/>
<path d="M442.10 112.60H446.10M444.10 106.60V118.60" stroke="#b3d5fd" stroke-width="1.1" fill="none"/>
<path d="M417.30 125.00H421.30M419.30 119.00V131.00" stroke="#b3d5fd" stroke-width="1.1" fill="none"/>
<path d="M435.30 121.50H439.30M437.30 115.50V127.50" stroke="#b3d5fd" stroke-width="1.1" fill="none"/>
<path d="M467.70 44.40H471.70M469.70 35.40V53.40" stroke="#ffcaa3" stroke-width="1.1" fill="none"/>
<path d="M478.60 43.40H482.60M480.60 35.40V51.40" stroke="#ffcaa3" stroke-width="1.1" fill="none"/>
<path d="M465.80 67.10H469.80M467.80 60.10V74.10" stroke="#ffcaa3" stroke-width="1.1" fill="none"/>
<path d="M477.20 66.70H481.20M479.20 59.70V73.70" stroke="#ffcaa3" stroke-width="1.1" fill="none"/>
<path d="M466.80 75.40H470.80M468.80 68.40V82.40" stroke="#ffcaa3" stroke-width="1.1" fill="none"/>
<path d="M509.80 44.80H513.80M511.80 34.80V54.80" stroke="#ffcaa3" stroke-width="1.1" fill="none"/>
<path d="M499.50 50.60H503.50M501.50 41.60V59.60" stroke="#ffcaa3" stroke-width="1.1" fill="none"/>
<path d="M488.80 59.20H492.80M490.80 52.20V66.20" stroke="#ffcaa3" stroke-width="1.1" fill="none"/>
<path d="M507.80 55.70H511.80M509.80 48.70V62.70" stroke="#ffcaa3" stroke-width="1.1" fill="none"/>
<path d="M503.60 67.10H507.60M505.60 60.10V74.10" stroke="#ffcaa3" stroke-width="1.1" fill="none"/>
<path d="M488.20 70.20H492.20M490.20 63.20V77.20" stroke="#ffcaa3" stroke-width="1.1" fill="none"/>
<path d="M469.70 85.80H473.70M471.70 78.80V92.80" stroke="#ffcaa3" stroke-width="1.1" fill="none"/>
<path d="M474.10 92.40H478.10M476.10 85.40V99.40" stroke="#ffcaa3" stroke-width="1.1" fill="none"/>
<path d="M478.60 84.40H482.60M480.60 77.40V91.40" stroke="#ffcaa3" stroke-width="1.1" fill="none"/>
<path d="M483.40 79.60H487.40M485.40 72.60V86.60" stroke="#ffcaa3" stroke-width="1.1" fill="none"/>
<path d="M483.40 91.00H487.40M485.40 84.00V98.00" stroke="#ffcaa3" stroke-width="1.1" fill="none"/>
<path d="M483.40 102.30H487.40M485.40 95.30V109.30" stroke="#ffcaa3" stroke-width="1.1" fill="none"/>
<path d="M470.40 114.10H474.40M472.40 105.10V123.10" stroke="#ffcaa3" stroke-width="1.1" fill="none"/>
<path d="M477.30 66.50H481.30M479.30 59.50V73.50" stroke="#ffcaa3" stroke-width="1.1" fill="none"/>
<path d="M488.60 59.30H492.60M490.60 52.30V66.30" stroke="#ffcaa3" stroke-width="1.1" fill="none"/>
<path d="M488.00 70.00H492.00M490.00 63.00V77.00" stroke="#ffcaa3" stroke-width="1.1" fill="none"/>
<path d="M503.50 67.10H507.50M505.50 60.10V74.10" stroke="#ffcaa3" stroke-width="1.1" fill="none"/>
<path d="M484.50 83.00H488.50M486.50 76.00V90.00" stroke="#ffcaa3" stroke-width="1.1" fill="none"/>
<path d="M478.70 84.10H482.70M480.70 77.10V91.10" stroke="#ffcaa3" stroke-width="1.1" fill="none"/>
<path d="M470.50 86.10H474.50M472.50 79.10V93.10" stroke="#ffcaa3" stroke-width="1.1" fill="none"/>
<path d="M484.10 91.30H488.10M486.10 84.30V98.30" stroke="#ffcaa3" stroke-width="1.1" fill="none"/>
<path d="M474.20 92.30H478.20M476.20 85.30V99.30" stroke="#ffcaa3" stroke-width="1.1" fill="none"/>
<path d="M482.90 102.60H486.90M484.90 95.60V109.60" stroke="#ffcaa3" stroke-width="1.1" fill="none"/>
<path d="M470.50 114.00H474.50M472.50 107.00V121.00" stroke="#ffcaa3" stroke-width="1.1" fill="none"/>
<path d="M494.80 60.50H498.80M496.80 52.50V68.50" stroke="#bbf2ec" stroke-width="1.1" fill="none"/>
<path d="M503.50 74.40H507.50M505.50 66.40V82.40" stroke="#bbf2ec" stroke-width="1.1" fill="none"/>
<path d="M504.70 78.30H508.70M506.70 70.30V86.30" stroke="#bbf2ec" stroke-width="1.1" fill="none"/>
<path d="M499.00 98.50H503.00M501.00 90.50V106.50" stroke="#bbf2ec" stroke-width="1.1" fill="none"/>
<path d="M496.50 104.70H500.50M498.50 96.70V112.70" stroke="#bbf2ec" stroke-width="1.1" fill="none"/>
<path d="M499.00 116.10H503.00M501.00 102.10V130.10" stroke="#bbf2ec" stroke-width="1.1" fill="none"/>
<path d="M497.50 69.60H501.50M499.50 65.60V73.60" stroke="#bde0bd" stroke-width="1.1" fill="none"/>
<path d="M508.90 68.00H512.90M510.90 64.00V72.00" stroke="#bde0bd" stroke-width="1.1" fill="none"/>
<path d="M500.00 78.30H504.00M502.00 74.30V82.30" stroke="#bde0bd" stroke-width="1.1" fill="none"/>
<path d="M489.70 87.60H493.70M491.70 83.60V91.60" stroke="#bde0bd" stroke-width="1.1" fill="none"/>
<path d="M506.70 48.90H510.70M508.70 38.90V58.90" stroke="#fde598" stroke-width="1.1" fill="none"/>
<path d="M521.80 51.60H525.80M523.80 45.60V57.60" stroke="#fde598" stroke-width="1.1" fill="none"/>
<path d="M504.00 59.90H508.00M506.00 53.90V65.90" stroke="#fde598" stroke-width="1.1" fill="none"/>
<path d="M520.20 72.30H524.20M522.20 62.30V82.30" stroke="#fde598" stroke-width="1.1" fill="none"/>
<path d="M504.10 59.30H508.10M506.10 53.30V65.30" stroke="#fde598" stroke-width="1.1" fill="none"/>
<path d="M506.80 56.20H510.80M508.80 50.20V62.20" stroke="#fde598" stroke-width="1.1" fill="none"/>
<path d="M507.20 71.70H511.20M509.20 65.70V77.70" stroke="#fde598" stroke-width="1.1" fill="none"/>
<path d="M508.90 75.80H512.90M510.90 69.80V81.80" stroke="#fde598" stroke-width="1.1" fill="none"/>
<path d="M496.90 93.40H500.90M498.90 87.40V99.40" stroke="#fde598" stroke-width="1.1" fill="none"/>
<path d="M506.20 88.20H510.20M508.20 82.20V94.20" stroke="#fde598" stroke-width="1.1" fill="none"/>
<path d="M505.80 98.90H509.80M507.80 92.90V104.90" stroke="#fde598" stroke-width="1.1" fill="none"/>
<path d="M517.10 50.00H521.10M519.10 46.00V54.00" stroke="#ffbaba" stroke-width="1.1" fill="none"/>
<path d="M511.90 63.00H515.90M513.90 59.00V67.00" stroke="#ffbaba" stroke-width="1.1" fill="none"/>
<path d="M512.90 76.40H516.90M514.90 72.40V80.40" stroke="#ffbaba" stroke-width="1.1" fill="none"/>
<path d="M495.90 85.10H499.90M497.90 81.10V89.10" stroke="#ffbaba" stroke-width="1.1" fill="none"/>
<path d="M510.30 84.70H514.30M512.30 80.70V88.70" stroke="#ffbaba" stroke-width="1.1" fill="none"/>
<path d="M555.90 26.80H559.90M557.90 24.80V28.80" stroke="#f8aaf8" stroke-width="1.1" fill="none"/>
<path d="M542.20 44.00H546.20M544.20 42.00V46.00" stroke="#f8aaf8" stroke-width="1.1" fill="none"/>
<path d="M530.10 48.10H534.10M532.10 46.10V50.10" stroke="#f8aaf8" stroke-width="1.1" fill="none"/>
<path d="M541.20 50.60H545.20M543.20 46.60V54.60" stroke="#f8aaf8" stroke-width="1.1" fill="none"/>
<rect x="451.00" y="56.70" width="3.40" height="3.40" fill="#cfe4ff" stroke="#3f97fb" stroke-width="1.2"/>
<rect x="441.70" y="61.90" width="3.40" height="3.40" fill="#cfe4ff" stroke="#3f97fb" stroke-width="1.2"/>
<rect x="446.90" y="74.70" width="3.40" height="3.40" fill="#cfe4ff" stroke="#3f97fb" stroke-width="1.2"/>
<rect x="440.30" y="76.70" width="3.40" height="3.40" fill="#cfe4ff" stroke="#3f97fb" stroke-width="1.2"/>
<rect x="411.40" y="82.50" width="3.40" height="3.40" fill="#cfe4ff" stroke="#3f97fb" stroke-width="1.2"/>
<rect x="440.30" y="77.30" width="3.40" height="3.40" fill="#cfe4ff" stroke="#3f97fb" stroke-width="1.2"/>
<rect x="438.20" y="80.40" width="3.40" height="3.40" fill="#cfe4ff" stroke="#3f97fb" stroke-width="1.2"/>
<rect x="446.90" y="74.40" width="3.40" height="3.40" fill="#cfe4ff" stroke="#3f97fb" stroke-width="1.2"/>
<rect x="449.00" y="81.00" width="3.40" height="3.40" fill="#cfe4ff" stroke="#3f97fb" stroke-width="1.2"/>
<rect x="458.90" y="85.50" width="3.40" height="3.40" fill="#cfe4ff" stroke="#3f97fb" stroke-width="1.2"/>
<rect x="414.90" y="99.20" width="3.40" height="3.40" fill="#cfe4ff" stroke="#3f97fb" stroke-width="1.2"/>
<rect x="421.70" y="106.40" width="3.40" height="3.40" fill="#cfe4ff" stroke="#3f97fb" stroke-width="1.2"/>
<rect x="443.20" y="101.20" width="3.40" height="3.40" fill="#cfe4ff" stroke="#3f97fb" stroke-width="1.2"/>
<rect x="444.20" y="105.40" width="3.40" height="3.40" fill="#cfe4ff" stroke="#3f97fb" stroke-width="1.2"/>
<rect x="437.60" y="108.30" width="3.40" height="3.40" fill="#cfe4ff" stroke="#3f97fb" stroke-width="1.2"/>
<rect x="442.40" y="110.90" width="3.40" height="3.40" fill="#cfe4ff" stroke="#3f97fb" stroke-width="1.2"/>
<rect x="417.60" y="123.30" width="3.40" height="3.40" fill="#cfe4ff" stroke="#3f97fb" stroke-width="1.2"/>
<rect x="435.60" y="119.80" width="3.40" height="3.40" fill="#cfe4ff" stroke="#3f97fb" stroke-width="1.2"/>
<rect x="467.55" y="42.25" width="4.30" height="4.30" fill="#ff7f0e"/>
<rect x="478.45" y="41.25" width="4.30" height="4.30" fill="#ff7f0e"/>
<rect x="465.65" y="64.95" width="4.30" height="4.30" fill="#ff7f0e"/>
<rect x="477.05" y="64.55" width="4.30" height="4.30" fill="#ff7f0e"/>
<rect x="466.65" y="73.25" width="4.30" height="4.30" fill="#ff7f0e"/>
<rect x="509.65" y="42.65" width="4.30" height="4.30" fill="#ff7f0e"/>
<rect x="499.35" y="48.45" width="4.30" height="4.30" fill="#ff7f0e"/>
<rect x="488.65" y="57.05" width="4.30" height="4.30" fill="#ff7f0e"/>
<rect x="507.65" y="53.55" width="4.30" height="4.30" fill="#ff7f0e"/>
<rect x="503.45" y="64.95" width="4.30" height="4.30" fill="#ff7f0e"/>
<rect x="488.05" y="68.05" width="4.30" height="4.30" fill="#ff7f0e"/>
<rect x="469.55" y="83.65" width="4.30" height="4.30" fill="#ff7f0e"/>
<rect x="473.95" y="90.25" width="4.30" height="4.30" fill="#ff7f0e"/>
<rect x="478.45" y="82.25" width="4.30" height="4.30" fill="#ff7f0e"/>
<rect x="483.25" y="77.45" width="4.30" height="4.30" fill="#ff7f0e"/>
<rect x="483.25" y="88.85" width="4.30" height="4.30" fill="#ff7f0e"/>
<rect x="483.25" y="100.15" width="4.30" height="4.30" fill="#ff7f0e"/>
<rect x="470.25" y="111.95" width="4.30" height="4.30" fill="#ff7f0e"/>
<rect x="477.15" y="64.35" width="4.30" height="4.30" fill="#ff7f0e"/>
<rect x="488.45" y="57.15" width="4.30" height="4.30" fill="#ff7f0e"/>
<rect x="487.85" y="67.85" width="4.30" height="4.30" fill="#ff7f0e"/>
<rect x="503.35" y="64.95" width="4.30" height="4.30" fill="#ff7f0e"/>
<rect x="484.35" y="80.85" width="4.30" height="4.30" fill="#ff7f0e"/>
<rect x="478.55" y="81.95" width="4.30" height="4.30" fill="#ff7f0e"/>
<rect x="470.35" y="83.95" width="4.30" height="4.30" fill="#ff7f0e"/>
<rect x="483.95" y="89.15" width="4.30" height="4.30" fill="#ff7f0e"/>
<rect x="474.05" y="90.15" width="4.30" height="4.30" fill="#ff7f0e"/>
<rect x="482.75" y="100.45" width="4.30" height="4.30" fill="#ff7f0e"/>
<rect x="470.35" y="111.85" width="4.30" height="4.30" fill="#ff7f0e"/>
<path d="M496.80 58.40L498.90 60.50L496.80 62.60L494.70 60.50Z" fill="#d8f7f3" stroke="#4fd9cc" stroke-width="1.2"/>
<path d="M505.50 72.30L507.60 74.40L505.50 76.50L503.40 74.40Z" fill="#d8f7f3" stroke="#4fd9cc" stroke-width="1.2"/>
<path d="M506.70 76.20L508.80 78.30L506.70 80.40L504.60 78.30Z" fill="#d8f7f3" stroke="#4fd9cc" stroke-width="1.2"/>
<path d="M501.00 96.40L503.10 98.50L501.00 100.60L498.90 98.50Z" fill="#d8f7f3" stroke="#4fd9cc" stroke-width="1.2"/>
<path d="M498.50 102.60L500.60 104.70L498.50 106.80L496.40 104.70Z" fill="#d8f7f3" stroke="#4fd9cc" stroke-width="1.2"/>
<path d="M501.00 114.00L503.10 116.10L501.00 118.20L498.90 116.10Z" fill="#d8f7f3" stroke="#4fd9cc" stroke-width="1.2"/>
<circle cx="499.50" cy="69.60" r="2.05" fill="#d5ecd5" stroke="#3fa33f" stroke-width="1.3"/>
<circle cx="510.90" cy="68.00" r="2.05" fill="#d5ecd5" stroke="#3fa33f" stroke-width="1.3"/>
<circle cx="502.00" cy="78.30" r="2.05" fill="#d5ecd5" stroke="#3fa33f" stroke-width="1.3"/>
<circle cx="491.70" cy="87.60" r="2.05" fill="#d5ecd5" stroke="#3fa33f" stroke-width="1.3"/>
<path d="M506.70 47.40L510.70 47.40L508.70 50.90Z" fill="#f5c400"/>
<path d="M521.80 50.10L525.80 50.10L523.80 53.60Z" fill="#f5c400"/>
<path d="M504.00 58.40L508.00 58.40L506.00 61.90Z" fill="#f5c400"/>
<path d="M520.20 70.80L524.20 70.80L522.20 74.30Z" fill="#f5c400"/>
<path d="M504.10 57.80L508.10 57.80L506.10 61.30Z" fill="#f5c400"/>
<path d="M506.80 54.70L510.80 54.70L508.80 58.20Z" fill="#f5c400"/>
<path d="M507.20 70.20L511.20 70.20L509.20 73.70Z" fill="#f5c400"/>
<path d="M508.90 74.30L512.90 74.30L510.90 77.80Z" fill="#f5c400"/>
<path d="M496.90 91.90L500.90 91.90L498.90 95.40Z" fill="#f5c400"/>
<path d="M506.20 86.70L510.20 86.70L508.20 90.20Z" fill="#f5c400"/>
<path d="M505.80 97.40L509.80 97.40L507.80 100.90Z" fill="#f5c400"/>
<polygon points="519.10,46.00 520.28,48.38 522.90,48.76 521.00,50.62 521.45,53.24 519.10,52.00 516.75,53.24 517.20,50.62 515.30,48.76 517.92,48.38" fill="#ff1f1f" stroke="#ff1f1f" stroke-width="0.5" stroke-linejoin="round"/>
<polygon points="513.90,59.00 515.08,61.38 517.70,61.76 515.80,63.62 516.25,66.24 513.90,65.00 511.55,66.24 512.00,63.62 510.10,61.76 512.72,61.38" fill="#ff1f1f" stroke="#ff1f1f" stroke-width="0.5" stroke-linejoin="round"/>
<polygon points="514.90,72.40 516.08,74.78 518.70,75.16 516.80,77.02 517.25,79.64 514.90,78.40 512.55,79.64 513.00,77.02 511.10,75.16 513.72,74.78" fill="#ff1f1f" stroke="#ff1f1f" stroke-width="0.5" stroke-linejoin="round"/>
<polygon points="497.90,81.10 499.08,83.48 501.70,83.86 499.80,85.72 500.25,88.34 497.90,87.10 495.55,88.34 496.00,85.72 494.10,83.86 496.72,83.48" fill="#ff1f1f" stroke="#ff1f1f" stroke-width="0.5" stroke-linejoin="round"/>
<polygon points="512.30,80.70 513.48,83.08 516.10,83.46 514.20,85.32 514.65,87.94 512.30,86.70 509.95,87.94 510.40,85.32 508.50,83.46 511.12,83.08" fill="#ff1f1f" stroke="#ff1f1f" stroke-width="0.5" stroke-linejoin="round"/>
<circle cx="557.90" cy="26.80" r="2.25" fill="#ee11ee"/>
<circle cx="544.20" cy="44.00" r="2.25" fill="#ee11ee"/>
<circle cx="532.10" cy="48.10" r="2.25" fill="#ee11ee"/>
<circle cx="543.20" cy="50.60" r="2.25" fill="#ee11ee"/>
<line x1="405.30" y1="122.64" x2="574.40" y2="31.76" class="dt"/>
</g>
<clipPath id="cpd"><rect x="578.50" y="4.00" width="177.00" height="154.60"/></clipPath>
<g clip-path="url(#cpd)">
<path d="M653.50 50.80h5M656.00 50.80V57.50" stroke="#ff9ea6" stroke-width="1.1" fill="none"/><path d="M653.40 56.20h5.2L656.00 60.50Z" fill="#ff9ea6"/><path d="M651.30 50.80H660.60M651.30 48.80v4M660.60 48.80v4" stroke="#ff9ea6" stroke-width="1.1" fill="none"/>
<path d="M619.00 76.40H623.00M621.00 70.40V82.40" stroke="#b3d5fd" stroke-width="1.1" fill="none"/>
<path d="M663.70 63.60H667.70M665.70 57.60V69.60" stroke="#b3d5fd" stroke-width="1.1" fill="none"/>
<path d="M618.90 76.50H622.90M620.90 69.50V83.50" stroke="#b3d5fd" stroke-width="1.1" fill="none"/>
<path d="M625.50 82.70H629.50M627.50 76.70V88.70" stroke="#b3d5fd" stroke-width="1.1" fill="none"/>
<path d="M641.00 81.90H645.00M643.00 73.90V89.90" stroke="#b3d5fd" stroke-width="1.1" fill="none"/>
<path d="M650.70 79.60H654.70M652.70 73.60V85.60" stroke="#b3d5fd" stroke-width="1.1" fill="none"/>
<path d="M660.60 83.70H664.60M662.60 77.70V89.70" stroke="#b3d5fd" stroke-width="1.1" fill="none"/>
<path d="M606.30 110.00H610.30M608.30 101.00V119.00" stroke="#b3d5fd" stroke-width="1.1" fill="none"/>
<path d="M625.50 107.90H629.50M627.50 99.90V115.90" stroke="#b3d5fd" stroke-width="1.1" fill="none"/>
<path d="M643.10 107.10H647.10M645.10 100.10V114.10" stroke="#b3d5fd" stroke-width="1.1" fill="none"/>
<path d="M615.60 121.50H619.60M617.60 114.50V128.50" stroke="#b3d5fd" stroke-width="1.1" fill="none"/>
<path d="M628.00 124.60H632.00M630.00 117.60V131.60" stroke="#b3d5fd" stroke-width="1.1" fill="none"/>
<path d="M663.70 102.90H667.70M665.70 96.90V108.90" stroke="#b3d5fd" stroke-width="1.1" fill="none"/>
<path d="M662.70 112.60H666.70M664.70 106.60V118.60" stroke="#b3d5fd" stroke-width="1.1" fill="none"/>
<path d="M664.10 63.80H668.10M666.10 57.80V69.80" stroke="#b3d5fd" stroke-width="1.1" fill="none"/>
<path d="M684.70 58.30H688.70M686.70 52.30V64.30" stroke="#b3d5fd" stroke-width="1.1" fill="none"/>
<path d="M650.50 78.90H654.50M652.50 72.90V84.90" stroke="#b3d5fd" stroke-width="1.1" fill="none"/>
<path d="M660.40 84.10H664.40M662.40 78.10V90.10" stroke="#b3d5fd" stroke-width="1.1" fill="none"/>
<path d="M665.50 100.60H669.50M667.50 94.60V106.60" stroke="#b3d5fd" stroke-width="1.1" fill="none"/>
<path d="M663.50 103.30H667.50M665.50 97.30V109.30" stroke="#b3d5fd" stroke-width="1.1" fill="none"/>
<path d="M662.50 112.00H666.50M664.50 106.00V118.00" stroke="#b3d5fd" stroke-width="1.1" fill="none"/>
<path d="M624.40 44.00H685.20M654.80 37.00V51.00" stroke="#ffcaa3" stroke-width="1.1" fill="none"/>
<path d="M645.80 66.70H649.80M647.80 61.70V71.70" stroke="#ffcaa3" stroke-width="1.1" fill="none"/>
<path d="M604.80 66.70H698.60M651.70 61.70V71.70" stroke="#ffcaa3" stroke-width="1.1" fill="none"/>
<path d="M604.90 70.20H632.90M618.90 68.20V72.20" stroke="#ffcaa3" stroke-width="1.1" fill="none"/>
<path d="M587.80 78.40H591.80M589.80 71.40V85.40" stroke="#ffcaa3" stroke-width="1.1" fill="none"/>
<path d="M693.90 44.80H697.90M695.90 34.80V54.80" stroke="#ffcaa3" stroke-width="1.1" fill="none"/>
<path d="M668.50 50.60H672.50M670.50 44.60V56.60" stroke="#ffcaa3" stroke-width="1.1" fill="none"/>
<path d="M689.20 55.70H693.20M691.20 49.70V61.70" stroke="#ffcaa3" stroke-width="1.1" fill="none"/>
<path d="M681.50 59.50H685.50M683.50 53.50V65.50" stroke="#ffcaa3" stroke-width="1.1" fill="none"/>
<path d="M694.60 67.10H698.60M696.60 61.10V73.10" stroke="#ffcaa3" stroke-width="1.1" fill="none"/>
<path d="M656.10 80.00H660.10M658.10 74.00V86.00" stroke="#ffcaa3" stroke-width="1.1" fill="none"/>
<path d="M658.60 82.70H662.60M660.60 76.70V88.70" stroke="#ffcaa3" stroke-width="1.1" fill="none"/>
<path d="M659.20 91.40H663.20M661.20 85.40V97.40" stroke="#ffcaa3" stroke-width="1.1" fill="none"/>
<path d="M638.80 102.70H656.80M647.80 99.70V105.70" stroke="#ffcaa3" stroke-width="1.1" fill="none"/>
<path d="M681.40 59.30H685.40M683.40 53.30V65.30" stroke="#ffcaa3" stroke-width="1.1" fill="none"/>
<path d="M689.30 56.20H693.30M691.30 50.20V62.20" stroke="#ffcaa3" stroke-width="1.1" fill="none"/>
<path d="M695.10 66.50H699.10M697.10 60.50V72.50" stroke="#ffcaa3" stroke-width="1.1" fill="none"/>
<path d="M698.00 84.10H758.00M728.00 77.10V91.10" stroke="#ffcaa3" stroke-width="1.1" fill="none"/>
<path d="M714.10 92.70H718.10M716.10 85.70V99.70" stroke="#ffcaa3" stroke-width="1.1" fill="none"/>
<path d="M685.20 86.70H689.20M687.20 80.70V92.70" stroke="#ffcaa3" stroke-width="1.1" fill="none"/>
<path d="M656.30 79.90H660.30M658.30 73.90V85.90" stroke="#ffcaa3" stroke-width="1.1" fill="none"/>
<path d="M658.30 82.60H662.30M660.30 76.60V88.60" stroke="#ffcaa3" stroke-width="1.1" fill="none"/>
<path d="M659.40 91.30H663.40M661.40 85.30V97.30" stroke="#ffcaa3" stroke-width="1.1" fill="none"/>
<path d="M666.60 114.00H670.60M668.60 107.00V121.00" stroke="#ffcaa3" stroke-width="1.1" fill="none"/>
<path d="M696.00 60.50H700.00M698.00 52.50V68.50" stroke="#bbf2ec" stroke-width="1.1" fill="none"/>
<path d="M690.80 73.30H694.80M692.80 65.30V81.30" stroke="#bbf2ec" stroke-width="1.1" fill="none"/>
<path d="M696.50 59.90H700.50M698.50 51.90V67.90" stroke="#bbf2ec" stroke-width="1.1" fill="none"/>
<path d="M691.40 72.70H695.40M693.40 64.70V80.70" stroke="#bbf2ec" stroke-width="1.1" fill="none"/>
<path d="M702.10 88.60H706.10M704.10 80.60V96.60" stroke="#bbf2ec" stroke-width="1.1" fill="none"/>
<path d="M692.40 98.50H696.40M694.40 88.50V108.50" stroke="#bbf2ec" stroke-width="1.1" fill="none"/>
<path d="M697.50 104.30H701.50M699.50 96.30V112.30" stroke="#bbf2ec" stroke-width="1.1" fill="none"/>
<path d="M699.20 115.60H703.20M701.20 101.60V129.60" stroke="#bbf2ec" stroke-width="1.1" fill="none"/>
<path d="M682.60 69.60H686.60M684.60 65.60V73.60" stroke="#bde0bd" stroke-width="1.1" fill="none"/>
<path d="M691.90 67.70H695.90M693.90 63.70V71.70" stroke="#bde0bd" stroke-width="1.1" fill="none"/>
<path d="M678.00 78.00H682.00M680.00 74.00V82.00" stroke="#bde0bd" stroke-width="1.1" fill="none"/>
<path d="M682.70 69.60H686.70M684.70 65.60V73.60" stroke="#bde0bd" stroke-width="1.1" fill="none"/>
<path d="M691.80 68.00H695.80M693.80 64.00V72.00" stroke="#bde0bd" stroke-width="1.1" fill="none"/>
<path d="M678.60 78.30H682.60M680.60 74.30V82.30" stroke="#bde0bd" stroke-width="1.1" fill="none"/>
<path d="M690.30 87.60H694.30M692.30 83.60V91.60" stroke="#bde0bd" stroke-width="1.1" fill="none"/>
<path d="M636.90 48.10H640.90M638.90 36.10V60.10" stroke="#fde598" stroke-width="1.1" fill="none"/>
<path d="M692.90 51.60H696.90M694.90 45.60V57.60" stroke="#fde598" stroke-width="1.1" fill="none"/>
<path d="M696.00 55.70H700.00M698.00 49.70V61.70" stroke="#fde598" stroke-width="1.1" fill="none"/>
<path d="M684.60 59.90H688.60M686.60 53.90V65.90" stroke="#fde598" stroke-width="1.1" fill="none"/>
<path d="M673.30 72.30H677.30M675.30 66.30V78.30" stroke="#fde598" stroke-width="1.1" fill="none"/>
<path d="M701.20 72.70H705.20M703.20 66.70V78.70" stroke="#fde598" stroke-width="1.1" fill="none"/>
<path d="M669.20 76.40H673.20M671.20 70.40V82.40" stroke="#fde598" stroke-width="1.1" fill="none"/>
<path d="M673.40 71.70H677.40M675.40 65.70V77.70" stroke="#fde598" stroke-width="1.1" fill="none"/>
<path d="M692.40 70.60H696.40M694.40 64.60V76.60" stroke="#fde598" stroke-width="1.1" fill="none"/>
<path d="M701.70 72.70H705.70M703.70 66.70V78.70" stroke="#fde598" stroke-width="1.1" fill="none"/>
<path d="M669.70 75.80H673.70M671.70 69.80V81.80" stroke="#fde598" stroke-width="1.1" fill="none"/>
<path d="M663.50 76.80H667.50M665.50 70.80V82.80" stroke="#fde598" stroke-width="1.1" fill="none"/>
<path d="M698.00 78.90H702.00M700.00 72.90V84.90" stroke="#fde598" stroke-width="1.1" fill="none"/>
<path d="M664.90 93.40H668.90M666.90 87.40V99.40" stroke="#fde598" stroke-width="1.1" fill="none"/>
<path d="M689.30 88.20H693.30M691.30 82.20V94.20" stroke="#fde598" stroke-width="1.1" fill="none"/>
<path d="M689.30 98.90H693.30M691.30 92.90V104.90" stroke="#fde598" stroke-width="1.1" fill="none"/>
<path d="M639.50 63.00H675.50M657.50 59.00V67.00" stroke="#ffbaba" stroke-width="1.1" fill="none"/>
<path d="M637.30 76.40H667.30M652.30 71.40V81.40" stroke="#ffbaba" stroke-width="1.1" fill="none"/>
<path d="M677.00 50.00H683.00M680.00 46.00V54.00" stroke="#ffbaba" stroke-width="1.1" fill="none"/>
<path d="M679.00 84.70H685.00M682.00 80.70V88.70" stroke="#ffbaba" stroke-width="1.1" fill="none"/>
<path d="M694.50 84.70H700.50M697.50 80.70V88.70" stroke="#ffbaba" stroke-width="1.1" fill="none"/>
<path d="M646.10 26.80H694.10M670.10 25.80V27.80" stroke="#f8aaf8" stroke-width="1.1" fill="none"/>
<path d="M686.70 44.00H690.70M688.70 42.00V46.00" stroke="#f8aaf8" stroke-width="1.1" fill="none"/>
<path d="M679.50 48.10H683.50M681.50 46.10V50.10" stroke="#f8aaf8" stroke-width="1.1" fill="none"/>
<path d="M702.80 50.60H706.80M704.80 46.60V54.60" stroke="#f8aaf8" stroke-width="1.1" fill="none"/>
<rect x="619.30" y="74.70" width="3.40" height="3.40" fill="#cfe4ff" stroke="#3f97fb" stroke-width="1.2"/>
<rect x="664.00" y="61.90" width="3.40" height="3.40" fill="#cfe4ff" stroke="#3f97fb" stroke-width="1.2"/>
<rect x="619.20" y="74.80" width="3.40" height="3.40" fill="#cfe4ff" stroke="#3f97fb" stroke-width="1.2"/>
<rect x="625.80" y="81.00" width="3.40" height="3.40" fill="#cfe4ff" stroke="#3f97fb" stroke-width="1.2"/>
<rect x="641.30" y="80.20" width="3.40" height="3.40" fill="#cfe4ff" stroke="#3f97fb" stroke-width="1.2"/>
<rect x="651.00" y="77.90" width="3.40" height="3.40" fill="#cfe4ff" stroke="#3f97fb" stroke-width="1.2"/>
<rect x="660.90" y="82.00" width="3.40" height="3.40" fill="#cfe4ff" stroke="#3f97fb" stroke-width="1.2"/>
<rect x="606.60" y="108.30" width="3.40" height="3.40" fill="#cfe4ff" stroke="#3f97fb" stroke-width="1.2"/>
<rect x="625.80" y="106.20" width="3.40" height="3.40" fill="#cfe4ff" stroke="#3f97fb" stroke-width="1.2"/>
<rect x="643.40" y="105.40" width="3.40" height="3.40" fill="#cfe4ff" stroke="#3f97fb" stroke-width="1.2"/>
<rect x="615.90" y="119.80" width="3.40" height="3.40" fill="#cfe4ff" stroke="#3f97fb" stroke-width="1.2"/>
<rect x="628.30" y="122.90" width="3.40" height="3.40" fill="#cfe4ff" stroke="#3f97fb" stroke-width="1.2"/>
<rect x="664.00" y="101.20" width="3.40" height="3.40" fill="#cfe4ff" stroke="#3f97fb" stroke-width="1.2"/>
<rect x="663.00" y="110.90" width="3.40" height="3.40" fill="#cfe4ff" stroke="#3f97fb" stroke-width="1.2"/>
<rect x="664.40" y="62.10" width="3.40" height="3.40" fill="#cfe4ff" stroke="#3f97fb" stroke-width="1.2"/>
<rect x="685.00" y="56.60" width="3.40" height="3.40" fill="#cfe4ff" stroke="#3f97fb" stroke-width="1.2"/>
<rect x="650.80" y="77.20" width="3.40" height="3.40" fill="#cfe4ff" stroke="#3f97fb" stroke-width="1.2"/>
<rect x="660.70" y="82.40" width="3.40" height="3.40" fill="#cfe4ff" stroke="#3f97fb" stroke-width="1.2"/>
<rect x="665.80" y="98.90" width="3.40" height="3.40" fill="#cfe4ff" stroke="#3f97fb" stroke-width="1.2"/>
<rect x="663.80" y="101.60" width="3.40" height="3.40" fill="#cfe4ff" stroke="#3f97fb" stroke-width="1.2"/>
<rect x="662.80" y="110.30" width="3.40" height="3.40" fill="#cfe4ff" stroke="#3f97fb" stroke-width="1.2"/>
<rect x="652.65" y="41.85" width="4.30" height="4.30" fill="#ff7f0e"/>
<rect x="645.65" y="64.55" width="4.30" height="4.30" fill="#ff7f0e"/>
<rect x="649.55" y="64.55" width="4.30" height="4.30" fill="#ff7f0e"/>
<rect x="616.75" y="68.05" width="4.30" height="4.30" fill="#ff7f0e"/>
<rect x="587.65" y="76.25" width="4.30" height="4.30" fill="#ff7f0e"/>
<rect x="693.75" y="42.65" width="4.30" height="4.30" fill="#ff7f0e"/>
<rect x="668.35" y="48.45" width="4.30" height="4.30" fill="#ff7f0e"/>
<rect x="689.05" y="53.55" width="4.30" height="4.30" fill="#ff7f0e"/>
<rect x="681.35" y="57.35" width="4.30" height="4.30" fill="#ff7f0e"/>
<rect x="694.45" y="64.95" width="4.30" height="4.30" fill="#ff7f0e"/>
<rect x="655.95" y="77.85" width="4.30" height="4.30" fill="#ff7f0e"/>
<rect x="658.45" y="80.55" width="4.30" height="4.30" fill="#ff7f0e"/>
<rect x="659.05" y="89.25" width="4.30" height="4.30" fill="#ff7f0e"/>
<rect x="645.65" y="100.55" width="4.30" height="4.30" fill="#ff7f0e"/>
<rect x="681.25" y="57.15" width="4.30" height="4.30" fill="#ff7f0e"/>
<rect x="689.15" y="54.05" width="4.30" height="4.30" fill="#ff7f0e"/>
<rect x="694.95" y="64.35" width="4.30" height="4.30" fill="#ff7f0e"/>
<rect x="725.85" y="81.95" width="4.30" height="4.30" fill="#ff7f0e"/>
<rect x="713.95" y="90.55" width="4.30" height="4.30" fill="#ff7f0e"/>
<rect x="685.05" y="84.55" width="4.30" height="4.30" fill="#ff7f0e"/>
<rect x="656.15" y="77.75" width="4.30" height="4.30" fill="#ff7f0e"/>
<rect x="658.15" y="80.45" width="4.30" height="4.30" fill="#ff7f0e"/>
<rect x="659.25" y="89.15" width="4.30" height="4.30" fill="#ff7f0e"/>
<rect x="666.45" y="111.85" width="4.30" height="4.30" fill="#ff7f0e"/>
<path d="M698.00 58.40L700.10 60.50L698.00 62.60L695.90 60.50Z" fill="#d8f7f3" stroke="#4fd9cc" stroke-width="1.2"/>
<path d="M692.80 71.20L694.90 73.30L692.80 75.40L690.70 73.30Z" fill="#d8f7f3" stroke="#4fd9cc" stroke-width="1.2"/>
<path d="M698.50 57.80L700.60 59.90L698.50 62.00L696.40 59.90Z" fill="#d8f7f3" stroke="#4fd9cc" stroke-width="1.2"/>
<path d="M693.40 70.60L695.50 72.70L693.40 74.80L691.30 72.70Z" fill="#d8f7f3" stroke="#4fd9cc" stroke-width="1.2"/>
<path d="M704.10 86.50L706.20 88.60L704.10 90.70L702.00 88.60Z" fill="#d8f7f3" stroke="#4fd9cc" stroke-width="1.2"/>
<path d="M694.40 96.40L696.50 98.50L694.40 100.60L692.30 98.50Z" fill="#d8f7f3" stroke="#4fd9cc" stroke-width="1.2"/>
<path d="M699.50 102.20L701.60 104.30L699.50 106.40L697.40 104.30Z" fill="#d8f7f3" stroke="#4fd9cc" stroke-width="1.2"/>
<path d="M701.20 113.50L703.30 115.60L701.20 117.70L699.10 115.60Z" fill="#d8f7f3" stroke="#4fd9cc" stroke-width="1.2"/>
<circle cx="684.60" cy="69.60" r="2.05" fill="#d5ecd5" stroke="#3fa33f" stroke-width="1.3"/>
<circle cx="693.90" cy="67.70" r="2.05" fill="#d5ecd5" stroke="#3fa33f" stroke-width="1.3"/>
<circle cx="680.00" cy="78.00" r="2.05" fill="#d5ecd5" stroke="#3fa33f" stroke-width="1.3"/>
<circle cx="684.70" cy="69.60" r="2.05" fill="#d5ecd5" stroke="#3fa33f" stroke-width="1.3"/>
<circle cx="693.80" cy="68.00" r="2.05" fill="#d5ecd5" stroke="#3fa33f" stroke-width="1.3"/>
<circle cx="680.60" cy="78.30" r="2.05" fill="#d5ecd5" stroke="#3fa33f" stroke-width="1.3"/>
<circle cx="692.30" cy="87.60" r="2.05" fill="#d5ecd5" stroke="#3fa33f" stroke-width="1.3"/>
<path d="M636.90 46.60L640.90 46.60L638.90 50.10Z" fill="#f5c400"/>
<path d="M692.90 50.10L696.90 50.10L694.90 53.60Z" fill="#f5c400"/>
<path d="M696.00 54.20L700.00 54.20L698.00 57.70Z" fill="#f5c400"/>
<path d="M684.60 58.40L688.60 58.40L686.60 61.90Z" fill="#f5c400"/>
<path d="M673.30 70.80L677.30 70.80L675.30 74.30Z" fill="#f5c400"/>
<path d="M701.20 71.20L705.20 71.20L703.20 74.70Z" fill="#f5c400"/>
<path d="M669.20 74.90L673.20 74.90L671.20 78.40Z" fill="#f5c400"/>
<path d="M673.40 70.20L677.40 70.20L675.40 73.70Z" fill="#f5c400"/>
<path d="M692.40 69.10L696.40 69.10L694.40 72.60Z" fill="#f5c400"/>
<path d="M701.70 71.20L705.70 71.20L703.70 74.70Z" fill="#f5c400"/>
<path d="M669.70 74.30L673.70 74.30L671.70 77.80Z" fill="#f5c400"/>
<path d="M663.50 75.30L667.50 75.30L665.50 78.80Z" fill="#f5c400"/>
<path d="M698.00 77.40L702.00 77.40L700.00 80.90Z" fill="#f5c400"/>
<path d="M664.90 91.90L668.90 91.90L666.90 95.40Z" fill="#f5c400"/>
<path d="M689.30 86.70L693.30 86.70L691.30 90.20Z" fill="#f5c400"/>
<path d="M689.30 97.40L693.30 97.40L691.30 100.90Z" fill="#f5c400"/>
<polygon points="657.50,59.00 658.68,61.38 661.30,61.76 659.40,63.62 659.85,66.24 657.50,65.00 655.15,66.24 655.60,63.62 653.70,61.76 656.32,61.38" fill="#ff1f1f" stroke="#ff1f1f" stroke-width="0.5" stroke-linejoin="round"/>
<polygon points="652.30,72.40 653.48,74.78 656.10,75.16 654.20,77.02 654.65,79.64 652.30,78.40 649.95,79.64 650.40,77.02 648.50,75.16 651.12,74.78" fill="#ff1f1f" stroke="#ff1f1f" stroke-width="0.5" stroke-linejoin="round"/>
<polygon points="680.00,46.00 681.18,48.38 683.80,48.76 681.90,50.62 682.35,53.24 680.00,52.00 677.65,53.24 678.10,50.62 676.20,48.76 678.82,48.38" fill="#ff1f1f" stroke="#ff1f1f" stroke-width="0.5" stroke-linejoin="round"/>
<polygon points="682.00,80.70 683.18,83.08 685.80,83.46 683.90,85.32 684.35,87.94 682.00,86.70 679.65,87.94 680.10,85.32 678.20,83.46 680.82,83.08" fill="#ff1f1f" stroke="#ff1f1f" stroke-width="0.5" stroke-linejoin="round"/>
<polygon points="697.50,80.70 698.68,83.08 701.30,83.46 699.40,85.32 699.85,87.94 697.50,86.70 695.15,87.94 695.60,85.32 693.70,83.46 696.32,83.08" fill="#ff1f1f" stroke="#ff1f1f" stroke-width="0.5" stroke-linejoin="round"/>
<circle cx="670.10" cy="26.80" r="2.25" fill="#ee11ee"/>
<circle cx="688.70" cy="44.00" r="2.25" fill="#ee11ee"/>
<circle cx="681.50" cy="48.10" r="2.25" fill="#ee11ee"/>
<circle cx="704.80" cy="50.60" r="2.25" fill="#ee11ee"/>
</g>
<clipPath id="cpe"><rect x="35.50" y="203.10" width="176.90" height="154.10"/></clipPath>
<g clip-path="url(#cpe)">
<path d="M123 251H193.7M193.7 248.5v5" stroke="#ff9ea6" stroke-width="1.1" fill="none"/>
<path d="M127.30 257.40H135.30M131.30 252.40V262.40" stroke="#b3d5fd" stroke-width="1.1" fill="none"/>
<path d="M142.10 263.00H150.10M146.10 258.00V268.00" stroke="#b3d5fd" stroke-width="1.1" fill="none"/>
<path d="M115.20 283.00H119.20M117.20 276.00V290.00" stroke="#b3d5fd" stroke-width="1.1" fill="none"/>
<path d="M124.00 311.50H138.50M131.20 306.00V317.00" stroke="#b3d5fd" stroke-width="1.1" fill="none"/>
<path d="M119.90 323.70H138.50M129.20 318.00V329.00" stroke="#b3d5fd" stroke-width="1.1" fill="none"/>
<path d="M35.00 320.60H79.60M46.40 312.00V329.00" stroke="#b3d5fd" stroke-width="1.1" fill="none"/>
<path d="M168.10 307.10H174.10M171.10 302.10V312.10" stroke="#b3d5fd" stroke-width="1.1" fill="none"/>
<path d="M120.00 299.60H176.00M145.70 295.00V304.00" stroke="#b3d5fd" stroke-width="1.1" fill="none"/>
<path d="M117.80 302.30H170.00M145.30 298.00V306.00" stroke="#b3d5fd" stroke-width="1.1" fill="none"/>
<path d="M137.70 309.50H153.70M145.70 305.50V313.50" stroke="#b3d5fd" stroke-width="1.1" fill="none"/>
<path d="M120.80 311.60H140.80M130.80 307.60V315.60" stroke="#b3d5fd" stroke-width="1.1" fill="none"/>
<path d="M119.20 324.00H139.20M129.20 320.00V328.00" stroke="#b3d5fd" stroke-width="1.1" fill="none"/>
<path d="M152.00 286.40H160.00M156.00 281.40V291.40" stroke="#b3d5fd" stroke-width="1.1" fill="none"/>
<path d="M161.30 281.10H169.30M165.30 276.10V286.10" stroke="#b3d5fd" stroke-width="1.1" fill="none"/>
<path d="M173.10 281.70H181.10M177.10 276.70V286.70" stroke="#b3d5fd" stroke-width="1.1" fill="none"/>
<path d="M151.40 278.60H159.40M155.40 273.60V283.60" stroke="#b3d5fd" stroke-width="1.1" fill="none"/>
<path d="M62.90 244.00H138.30M100.60 236.00V252.00" stroke="#ffcaa3" stroke-width="1.1" fill="none"/>
<path d="M109.00 244.00H113.00M111.00 233.00V255.00" stroke="#ffcaa3" stroke-width="1.1" fill="none"/>
<path d="M117.20 266.50H121.20M119.20 260.50V272.50" stroke="#ffcaa3" stroke-width="1.1" fill="none"/>
<path d="M150.30 243.00H154.30M152.30 235.00V251.00" stroke="#ffcaa3" stroke-width="1.1" fill="none"/>
<path d="M136.10 250.00H144.10M140.10 245.00V255.00" stroke="#ffcaa3" stroke-width="1.1" fill="none"/>
<path d="M128.30 255.30H136.30M132.30 250.30V260.30" stroke="#ffcaa3" stroke-width="1.1" fill="none"/>
<path d="M164.80 258.40H172.80M168.80 253.40V263.40" stroke="#ffcaa3" stroke-width="1.1" fill="none"/>
<path d="M161.30 266.10H169.30M165.30 261.10V271.10" stroke="#ffcaa3" stroke-width="1.1" fill="none"/>
<path d="M168.50 266.10H176.50M172.50 261.10V271.10" stroke="#ffcaa3" stroke-width="1.1" fill="none"/>
<path d="M133.50 269.20H141.50M137.50 264.20V274.20" stroke="#ffcaa3" stroke-width="1.1" fill="none"/>
<path d="M148.50 274.30H156.50M152.50 269.30V279.30" stroke="#ffcaa3" stroke-width="1.1" fill="none"/>
<path d="M61.80 284.90H161.00M111.40 274.90V294.90" stroke="#ffcaa3" stroke-width="1.1" fill="none"/>
<path d="M69.70 291.70H73.70M71.70 284.70V298.70" stroke="#ffcaa3" stroke-width="1.1" fill="none"/>
<path d="M177.80 291.00H181.80M179.80 284.00V298.00" stroke="#ffcaa3" stroke-width="1.1" fill="none"/>
<path d="M175.70 301.90H179.70M177.70 294.90V308.90" stroke="#ffcaa3" stroke-width="1.1" fill="none"/>
<path d="M187.50 313.30H191.50M189.50 305.30V321.30" stroke="#ffcaa3" stroke-width="1.1" fill="none"/>
<path d="M155.70 285.40H163.70M159.70 280.40V290.40" stroke="#ffcaa3" stroke-width="1.1" fill="none"/>
<path d="M164.80 283.70H172.80M168.80 278.70V288.70" stroke="#ffcaa3" stroke-width="1.1" fill="none"/>
<path d="M169.20 281.70H177.20M173.20 276.70V286.70" stroke="#ffcaa3" stroke-width="1.1" fill="none"/>
<path d="M133.90 269.30H141.90M137.90 264.30V274.30" stroke="#ffcaa3" stroke-width="1.1" fill="none"/>
<path d="M161.30 265.80H169.30M165.30 260.80V270.80" stroke="#ffcaa3" stroke-width="1.1" fill="none"/>
<path d="M169.20 265.80H177.20M173.20 260.80V270.80" stroke="#ffcaa3" stroke-width="1.1" fill="none"/>
<path d="M172.40 259.90H200.40M186.40 247.90V271.90" stroke="#bbf2ec" stroke-width="1.1" fill="none"/>
<path d="M164.80 272.30H172.80M168.80 267.30V277.30" stroke="#bbf2ec" stroke-width="1.1" fill="none"/>
<path d="M173.10 273.30H181.10M177.10 268.30V278.30" stroke="#bbf2ec" stroke-width="1.1" fill="none"/>
<path d="M129.30 277.40H137.30M133.30 272.40V282.40" stroke="#bbf2ec" stroke-width="1.1" fill="none"/>
<path d="M78.60 297.70H139.50M108.90 291.00V305.00" stroke="#bbf2ec" stroke-width="1.1" fill="none"/>
<path d="M171.60 314.70H175.60M173.60 307.70V321.70" stroke="#bbf2ec" stroke-width="1.1" fill="none"/>
<path d="M158.60 303.40H162.60M160.60 292.40V314.40" stroke="#bbf2ec" stroke-width="1.1" fill="none"/>
<path d="M159.90 287.90H167.90M163.90 282.90V292.90" stroke="#bbf2ec" stroke-width="1.1" fill="none"/>
<path d="M171.60 268.10H179.60M175.60 264.10V272.10" stroke="#bde0bd" stroke-width="1.1" fill="none"/>
<path d="M173.70 267.10H181.70M177.70 263.10V271.10" stroke="#bde0bd" stroke-width="1.1" fill="none"/>
<path d="M168.10 276.80H176.10M172.10 272.80V280.80" stroke="#bde0bd" stroke-width="1.1" fill="none"/>
<path d="M190.20 286.40H198.20M194.20 282.40V290.40" stroke="#bde0bd" stroke-width="1.1" fill="none"/>
<path d="M168.50 276.50H176.50M172.50 272.50V280.50" stroke="#bde0bd" stroke-width="1.1" fill="none"/>
<path d="M114.50 247.50H118.50M116.50 238.50V256.50" stroke="#fde598" stroke-width="1.1" fill="none"/>
<path d="M146.50 250.60H158.50M152.50 245.60V255.60" stroke="#fde598" stroke-width="1.1" fill="none"/>
<path d="M99.00 255.30H165.00M135.40 250.00V260.00" stroke="#fde598" stroke-width="1.1" fill="none"/>
<path d="M164.10 268.70H176.10M170.10 263.70V273.70" stroke="#fde598" stroke-width="1.1" fill="none"/>
<path d="M152.70 271.80H164.70M158.70 266.80V276.80" stroke="#fde598" stroke-width="1.1" fill="none"/>
<path d="M138.70 271.80H150.70M144.70 266.80V276.80" stroke="#fde598" stroke-width="1.1" fill="none"/>
<path d="M129.40 271.20H141.40M135.40 266.20V276.20" stroke="#fde598" stroke-width="1.1" fill="none"/>
<path d="M144.90 277.40H156.90M150.90 272.40V282.40" stroke="#fde598" stroke-width="1.1" fill="none"/>
<path d="M154.80 298.20H166.80M160.80 293.20V303.20" stroke="#fde598" stroke-width="1.1" fill="none"/>
<path d="M137.60 287.90H149.60M143.60 282.90V292.90" stroke="#fde598" stroke-width="1.1" fill="none"/>
<path d="M88.90 293.40H165.00M127.50 289.00V298.00" stroke="#fde598" stroke-width="1.1" fill="none"/>
<path d="M143.80 278.20H155.80M149.80 273.20V283.20" stroke="#fde598" stroke-width="1.1" fill="none"/>
<path d="M146.30 276.10H158.30M152.30 271.10V281.10" stroke="#fde598" stroke-width="1.1" fill="none"/>
<path d="M30.00 276.00H148.20M89.10 270.00V282.00" stroke="#ffbaba" stroke-width="1.1" fill="none"/>
<path d="M123.00 249.10H171.80M147.40 245.10V253.10" stroke="#ffbaba" stroke-width="1.1" fill="none"/>
<path d="M145.40 261.90H153.40M149.40 257.90V265.90" stroke="#ffbaba" stroke-width="1.1" fill="none"/>
<path d="M180.90 284.20H188.90M184.90 280.20V288.20" stroke="#ffbaba" stroke-width="1.1" fill="none"/>
<path d="M188.20 284.20H196.20M192.20 280.20V288.20" stroke="#ffbaba" stroke-width="1.1" fill="none"/>
<path d="M169.20 226.40H179.20M174.20 225.40V227.40" stroke="#f8aaf8" stroke-width="1.1" fill="none"/>
<path d="M192.30 243.40H202.30M197.30 242.40V244.40" stroke="#f8aaf8" stroke-width="1.1" fill="none"/>
<path d="M118.00 247.50H122.00M120.00 245.50V249.50" stroke="#f8aaf8" stroke-width="1.1" fill="none"/>
<path d="M101.40 250.20H145.40M123.40 249.20V251.20" stroke="#f8aaf8" stroke-width="1.1" fill="none"/>
<path d="M121.60 250.20H125.60M123.60 248.20V252.20" stroke="#f8aaf8" stroke-width="1.1" fill="none"/>
<rect x="129.60" y="255.70" width="3.40" height="3.40" fill="#cfe4ff" stroke="#3f97fb" stroke-width="1.2"/>
<rect x="144.40" y="261.30" width="3.40" height="3.40" fill="#cfe4ff" stroke="#3f97fb" stroke-width="1.2"/>
<rect x="115.50" y="281.30" width="3.40" height="3.40" fill="#cfe4ff" stroke="#3f97fb" stroke-width="1.2"/>
<rect x="129.50" y="309.80" width="3.40" height="3.40" fill="#cfe4ff" stroke="#3f97fb" stroke-width="1.2"/>
<rect x="127.50" y="322.00" width="3.40" height="3.40" fill="#cfe4ff" stroke="#3f97fb" stroke-width="1.2"/>
<rect x="44.70" y="318.90" width="3.40" height="3.40" fill="#cfe4ff" stroke="#3f97fb" stroke-width="1.2"/>
<rect x="169.40" y="305.40" width="3.40" height="3.40" fill="#cfe4ff" stroke="#3f97fb" stroke-width="1.2"/>
<rect x="144.00" y="297.90" width="3.40" height="3.40" fill="#cfe4ff" stroke="#3f97fb" stroke-width="1.2"/>
<rect x="143.60" y="300.60" width="3.40" height="3.40" fill="#cfe4ff" stroke="#3f97fb" stroke-width="1.2"/>
<rect x="144.00" y="307.80" width="3.40" height="3.40" fill="#cfe4ff" stroke="#3f97fb" stroke-width="1.2"/>
<rect x="129.10" y="309.90" width="3.40" height="3.40" fill="#cfe4ff" stroke="#3f97fb" stroke-width="1.2"/>
<rect x="127.50" y="322.30" width="3.40" height="3.40" fill="#cfe4ff" stroke="#3f97fb" stroke-width="1.2"/>
<rect x="154.30" y="284.70" width="3.40" height="3.40" fill="#cfe4ff" stroke="#3f97fb" stroke-width="1.2"/>
<rect x="163.60" y="279.40" width="3.40" height="3.40" fill="#cfe4ff" stroke="#3f97fb" stroke-width="1.2"/>
<rect x="175.40" y="280.00" width="3.40" height="3.40" fill="#cfe4ff" stroke="#3f97fb" stroke-width="1.2"/>
<rect x="153.70" y="276.90" width="3.40" height="3.40" fill="#cfe4ff" stroke="#3f97fb" stroke-width="1.2"/>
<rect x="98.45" y="241.85" width="4.30" height="4.30" fill="#ff7f0e"/>
<rect x="108.85" y="241.85" width="4.30" height="4.30" fill="#ff7f0e"/>
<rect x="117.05" y="264.35" width="4.30" height="4.30" fill="#ff7f0e"/>
<rect x="150.15" y="240.85" width="4.30" height="4.30" fill="#ff7f0e"/>
<rect x="137.95" y="247.85" width="4.30" height="4.30" fill="#ff7f0e"/>
<rect x="130.15" y="253.15" width="4.30" height="4.30" fill="#ff7f0e"/>
<rect x="166.65" y="256.25" width="4.30" height="4.30" fill="#ff7f0e"/>
<rect x="163.15" y="263.95" width="4.30" height="4.30" fill="#ff7f0e"/>
<rect x="170.35" y="263.95" width="4.30" height="4.30" fill="#ff7f0e"/>
<rect x="135.35" y="267.05" width="4.30" height="4.30" fill="#ff7f0e"/>
<rect x="150.35" y="272.15" width="4.30" height="4.30" fill="#ff7f0e"/>
<rect x="109.25" y="282.75" width="4.30" height="4.30" fill="#ff7f0e"/>
<rect x="69.55" y="289.55" width="4.30" height="4.30" fill="#ff7f0e"/>
<rect x="177.65" y="288.85" width="4.30" height="4.30" fill="#ff7f0e"/>
<rect x="175.55" y="299.75" width="4.30" height="4.30" fill="#ff7f0e"/>
<rect x="187.35" y="311.15" width="4.30" height="4.30" fill="#ff7f0e"/>
<rect x="157.55" y="283.25" width="4.30" height="4.30" fill="#ff7f0e"/>
<rect x="166.65" y="281.55" width="4.30" height="4.30" fill="#ff7f0e"/>
<rect x="171.05" y="279.55" width="4.30" height="4.30" fill="#ff7f0e"/>
<rect x="135.75" y="267.15" width="4.30" height="4.30" fill="#ff7f0e"/>
<rect x="163.15" y="263.65" width="4.30" height="4.30" fill="#ff7f0e"/>
<rect x="171.05" y="263.65" width="4.30" height="4.30" fill="#ff7f0e"/>
<path d="M186.40 257.80L188.50 259.90L186.40 262.00L184.30 259.90Z" fill="#d8f7f3" stroke="#4fd9cc" stroke-width="1.2"/>
<path d="M168.80 270.20L170.90 272.30L168.80 274.40L166.70 272.30Z" fill="#d8f7f3" stroke="#4fd9cc" stroke-width="1.2"/>
<path d="M177.10 271.20L179.20 273.30L177.10 275.40L175.00 273.30Z" fill="#d8f7f3" stroke="#4fd9cc" stroke-width="1.2"/>
<path d="M133.30 275.30L135.40 277.40L133.30 279.50L131.20 277.40Z" fill="#d8f7f3" stroke="#4fd9cc" stroke-width="1.2"/>
<path d="M108.90 295.60L111.00 297.70L108.90 299.80L106.80 297.70Z" fill="#d8f7f3" stroke="#4fd9cc" stroke-width="1.2"/>
<path d="M173.60 312.60L175.70 314.70L173.60 316.80L171.50 314.70Z" fill="#d8f7f3" stroke="#4fd9cc" stroke-width="1.2"/>
<path d="M160.60 301.30L162.70 303.40L160.60 305.50L158.50 303.40Z" fill="#d8f7f3" stroke="#4fd9cc" stroke-width="1.2"/>
<path d="M163.90 285.80L166.00 287.90L163.90 290.00L161.80 287.90Z" fill="#d8f7f3" stroke="#4fd9cc" stroke-width="1.2"/>
<circle cx="175.60" cy="268.10" r="2.05" fill="#d5ecd5" stroke="#3fa33f" stroke-width="1.3"/>
<circle cx="177.70" cy="267.10" r="2.05" fill="#d5ecd5" stroke="#3fa33f" stroke-width="1.3"/>
<circle cx="172.10" cy="276.80" r="2.05" fill="#d5ecd5" stroke="#3fa33f" stroke-width="1.3"/>
<circle cx="194.20" cy="286.40" r="2.05" fill="#d5ecd5" stroke="#3fa33f" stroke-width="1.3"/>
<circle cx="172.50" cy="276.50" r="2.05" fill="#d5ecd5" stroke="#3fa33f" stroke-width="1.3"/>
<path d="M114.50 246.00L118.50 246.00L116.50 249.50Z" fill="#f5c400"/>
<path d="M150.50 249.10L154.50 249.10L152.50 252.60Z" fill="#f5c400"/>
<path d="M133.40 253.80L137.40 253.80L135.40 257.30Z" fill="#f5c400"/>
<path d="M168.10 267.20L172.10 267.20L170.10 270.70Z" fill="#f5c400"/>
<path d="M156.70 270.30L160.70 270.30L158.70 273.80Z" fill="#f5c400"/>
<path d="M142.70 270.30L146.70 270.30L144.70 273.80Z" fill="#f5c400"/>
<path d="M133.40 269.70L137.40 269.70L135.40 273.20Z" fill="#f5c400"/>
<path d="M148.90 275.90L152.90 275.90L150.90 279.40Z" fill="#f5c400"/>
<path d="M158.80 296.70L162.80 296.70L160.80 300.20Z" fill="#f5c400"/>
<path d="M141.60 286.40L145.60 286.40L143.60 289.90Z" fill="#f5c400"/>
<path d="M125.50 291.90L129.50 291.90L127.50 295.40Z" fill="#f5c400"/>
<path d="M147.80 276.70L151.80 276.70L149.80 280.20Z" fill="#f5c400"/>
<path d="M150.30 274.60L154.30 274.60L152.30 278.10Z" fill="#f5c400"/>
<polygon points="89.10,272.00 90.28,274.38 92.90,274.76 91.00,276.62 91.45,279.24 89.10,278.00 86.75,279.24 87.20,276.62 85.30,274.76 87.92,274.38" fill="#ff1f1f" stroke="#ff1f1f" stroke-width="0.5" stroke-linejoin="round"/>
<polygon points="147.40,245.10 148.58,247.48 151.20,247.86 149.30,249.72 149.75,252.34 147.40,251.10 145.05,252.34 145.50,249.72 143.60,247.86 146.22,247.48" fill="#ff1f1f" stroke="#ff1f1f" stroke-width="0.5" stroke-linejoin="round"/>
<polygon points="149.40,257.90 150.58,260.28 153.20,260.66 151.30,262.52 151.75,265.14 149.40,263.90 147.05,265.14 147.50,262.52 145.60,260.66 148.22,260.28" fill="#ff1f1f" stroke="#ff1f1f" stroke-width="0.5" stroke-linejoin="round"/>
<polygon points="184.90,280.20 186.08,282.58 188.70,282.96 186.80,284.82 187.25,287.44 184.90,286.20 182.55,287.44 183.00,284.82 181.10,282.96 183.72,282.58" fill="#ff1f1f" stroke="#ff1f1f" stroke-width="0.5" stroke-linejoin="round"/>
<polygon points="192.20,280.20 193.38,282.58 196.00,282.96 194.10,284.82 194.55,287.44 192.20,286.20 189.85,287.44 190.30,284.82 188.40,282.96 191.02,282.58" fill="#ff1f1f" stroke="#ff1f1f" stroke-width="0.5" stroke-linejoin="round"/>
<circle cx="174.20" cy="226.40" r="2.25" fill="#ee11ee"/>
<circle cx="197.30" cy="243.40" r="2.25" fill="#ee11ee"/>
<circle cx="120.00" cy="247.50" r="2.25" fill="#ee11ee"/>
<circle cx="123.40" cy="250.20" r="2.25" fill="#ee11ee"/>
<circle cx="123.60" cy="250.20" r="2.25" fill="#ee11ee"/>
</g>
<clipPath id="cpf"><rect x="216.60" y="203.10" width="176.80" height="154.10"/></clipPath>
<g clip-path="url(#cpf)">
<path d="M216.00 262.60H271.70M257.30 255.00V273.00" stroke="#b3d5fd" stroke-width="1.1" fill="none"/>
<path d="M229.40 275.80H292.00M286.80 271.00V280.00" stroke="#b3d5fd" stroke-width="1.1" fill="none"/>
<path d="M296.70 278.40H306.70M301.70 273.40V283.40" stroke="#b3d5fd" stroke-width="1.1" fill="none"/>
<path d="M290.50 281.80H300.50M295.50 276.80V286.80" stroke="#b3d5fd" stroke-width="1.1" fill="none"/>
<path d="M296.30 278.30H306.30M301.30 273.30V283.30" stroke="#b3d5fd" stroke-width="1.1" fill="none"/>
<path d="M258.30 307.20H310.00M304.80 302.00V312.00" stroke="#b3d5fd" stroke-width="1.1" fill="none"/>
<path d="M311.10 281.30H321.10M316.10 276.30V286.30" stroke="#b3d5fd" stroke-width="1.1" fill="none"/>
<path d="M318.70 286.40H328.70M323.70 281.40V291.40" stroke="#b3d5fd" stroke-width="1.1" fill="none"/>
<path d="M324.90 283.10H334.90M329.90 278.10V288.10" stroke="#b3d5fd" stroke-width="1.1" fill="none"/>
<path d="M302.20 302.30H312.20M307.20 297.30V307.30" stroke="#b3d5fd" stroke-width="1.1" fill="none"/>
<path d="M300.20 307.10H310.20M305.20 302.10V312.10" stroke="#b3d5fd" stroke-width="1.1" fill="none"/>
<path d="M307.80 309.10H317.80M312.80 304.10V314.10" stroke="#b3d5fd" stroke-width="1.1" fill="none"/>
<path d="M331.70 299.80H341.70M336.70 294.80V304.80" stroke="#b3d5fd" stroke-width="1.1" fill="none"/>
<path d="M331.70 311.60H341.70M336.70 306.60V316.60" stroke="#b3d5fd" stroke-width="1.1" fill="none"/>
<path d="M316.10 320.90H326.10M321.10 315.90V325.90" stroke="#b3d5fd" stroke-width="1.1" fill="none"/>
<path d="M332.60 324.00H342.60M337.60 319.00V329.00" stroke="#b3d5fd" stroke-width="1.1" fill="none"/>
<path d="M237.70 242.70H296.00M290.30 235.00V251.00" stroke="#ffcaa3" stroke-width="1.1" fill="none"/>
<path d="M299.70 244.00H303.70M301.70 233.00V255.00" stroke="#ffcaa3" stroke-width="1.1" fill="none"/>
<path d="M264.60 266.10H268.60M266.60 258.10V274.10" stroke="#ffcaa3" stroke-width="1.1" fill="none"/>
<path d="M322.00 243.80H326.00M324.00 235.80V251.80" stroke="#ffcaa3" stroke-width="1.1" fill="none"/>
<path d="M318.60 250.00H326.60M322.60 245.00V255.00" stroke="#ffcaa3" stroke-width="1.1" fill="none"/>
<path d="M318.60 258.40H326.60M322.60 253.40V263.40" stroke="#ffcaa3" stroke-width="1.1" fill="none"/>
<path d="M314.90 266.10H322.90M318.90 261.10V271.10" stroke="#ffcaa3" stroke-width="1.1" fill="none"/>
<path d="M331.10 269.60H347.10M339.10 267.60V271.60" stroke="#ffcaa3" stroke-width="1.1" fill="none"/>
<path d="M343.40 278.00H351.40M347.40 273.00V283.00" stroke="#ffcaa3" stroke-width="1.1" fill="none"/>
<path d="M369.70 255.30H373.70M371.70 244.30V266.30" stroke="#ffcaa3" stroke-width="1.1" fill="none"/>
<path d="M298.70 279.30H306.70M302.70 274.30V284.30" stroke="#ffcaa3" stroke-width="1.1" fill="none"/>
<path d="M292.50 281.80H300.50M296.50 276.80V286.80" stroke="#ffcaa3" stroke-width="1.1" fill="none"/>
<path d="M315.00 265.80H323.00M319.00 260.80V270.80" stroke="#ffcaa3" stroke-width="1.1" fill="none"/>
<path d="M298.50 279.20H306.50M302.50 274.20V284.20" stroke="#ffcaa3" stroke-width="1.1" fill="none"/>
<path d="M343.50 278.00H351.50M347.50 273.00V283.00" stroke="#ffcaa3" stroke-width="1.1" fill="none"/>
<path d="M328.00 284.80H336.00M332.00 279.80V289.80" stroke="#ffcaa3" stroke-width="1.1" fill="none"/>
<path d="M337.30 285.40H345.30M341.30 280.40V290.40" stroke="#ffcaa3" stroke-width="1.1" fill="none"/>
<path d="M340.40 291.60H348.40M344.40 286.60V296.60" stroke="#ffcaa3" stroke-width="1.1" fill="none"/>
<path d="M312.90 301.90H320.90M316.90 296.90V306.90" stroke="#ffcaa3" stroke-width="1.1" fill="none"/>
<path d="M347.50 313.30H351.50M349.50 305.30V321.30" stroke="#ffcaa3" stroke-width="1.1" fill="none"/>
<path d="M326.30 273.70H338.30M332.30 268.70V278.70" stroke="#bbf2ec" stroke-width="1.1" fill="none"/>
<path d="M360.30 278.00H368.30M364.30 273.00V283.00" stroke="#bbf2ec" stroke-width="1.1" fill="none"/>
<path d="M359.50 297.80H363.50M361.50 290.80V304.80" stroke="#bbf2ec" stroke-width="1.1" fill="none"/>
<path d="M260.10 267.10H268.10M264.10 262.10V272.10" stroke="#bde0bd" stroke-width="1.1" fill="none"/>
<path d="M265.50 268.50H347.00M335.40 266.00V271.00" stroke="#bde0bd" stroke-width="1.1" fill="none"/>
<path d="M277.40 250.60H285.40M281.40 247.60V253.60" stroke="#fde598" stroke-width="1.1" fill="none"/>
<path d="M258.30 271.80H300.00M292.80 268.00V276.00" stroke="#fde598" stroke-width="1.1" fill="none"/>
<path d="M294.60 275.40H304.60M299.60 270.40V280.40" stroke="#fde598" stroke-width="1.1" fill="none"/>
<path d="M312.10 247.90H328.10M320.10 239.90V255.90" stroke="#fde598" stroke-width="1.1" fill="none"/>
<path d="M309.30 255.30H317.30M313.30 247.30V263.30" stroke="#fde598" stroke-width="1.1" fill="none"/>
<path d="M353.90 258.80H375.90M364.90 255.80V261.80" stroke="#fde598" stroke-width="1.1" fill="none"/>
<path d="M351.60 271.60H361.60M356.60 266.60V276.60" stroke="#fde598" stroke-width="1.1" fill="none"/>
<path d="M374.80 276.00H384.80M379.80 271.00V281.00" stroke="#fde598" stroke-width="1.1" fill="none"/>
<path d="M381.20 277.00H391.20M386.20 272.00V282.00" stroke="#fde598" stroke-width="1.1" fill="none"/>
<path d="M286.90 292.70H294.90M290.90 284.70V300.70" stroke="#fde598" stroke-width="1.1" fill="none"/>
<path d="M301.80 287.50H311.80M306.80 282.50V292.50" stroke="#fde598" stroke-width="1.1" fill="none"/>
<path d="M259.80 226.40H340.50M340.50 225.00V227.80" stroke="#f8aaf8" stroke-width="1.1" fill="none"/>
<path d="M256.30 243.40H340.00M335.00 242.00V244.80" stroke="#f8aaf8" stroke-width="1.1" fill="none"/>
<path d="M248.00 250.20H318.00M307.50 249.00V251.40" stroke="#f8aaf8" stroke-width="1.1" fill="none"/>
<path d="M373.60 247.50H377.60M375.60 245.50V249.50" stroke="#f8aaf8" stroke-width="1.1" fill="none"/>
<rect x="255.60" y="260.90" width="3.40" height="3.40" fill="#cfe4ff" stroke="#3f97fb" stroke-width="1.2"/>
<rect x="285.10" y="274.10" width="3.40" height="3.40" fill="#cfe4ff" stroke="#3f97fb" stroke-width="1.2"/>
<rect x="300.00" y="276.70" width="3.40" height="3.40" fill="#cfe4ff" stroke="#3f97fb" stroke-width="1.2"/>
<rect x="293.80" y="280.10" width="3.40" height="3.40" fill="#cfe4ff" stroke="#3f97fb" stroke-width="1.2"/>
<rect x="299.60" y="276.60" width="3.40" height="3.40" fill="#cfe4ff" stroke="#3f97fb" stroke-width="1.2"/>
<rect x="303.10" y="305.50" width="3.40" height="3.40" fill="#cfe4ff" stroke="#3f97fb" stroke-width="1.2"/>
<rect x="314.40" y="279.60" width="3.40" height="3.40" fill="#cfe4ff" stroke="#3f97fb" stroke-width="1.2"/>
<rect x="322.00" y="284.70" width="3.40" height="3.40" fill="#cfe4ff" stroke="#3f97fb" stroke-width="1.2"/>
<rect x="328.20" y="281.40" width="3.40" height="3.40" fill="#cfe4ff" stroke="#3f97fb" stroke-width="1.2"/>
<rect x="305.50" y="300.60" width="3.40" height="3.40" fill="#cfe4ff" stroke="#3f97fb" stroke-width="1.2"/>
<rect x="303.50" y="305.40" width="3.40" height="3.40" fill="#cfe4ff" stroke="#3f97fb" stroke-width="1.2"/>
<rect x="311.10" y="307.40" width="3.40" height="3.40" fill="#cfe4ff" stroke="#3f97fb" stroke-width="1.2"/>
<rect x="335.00" y="298.10" width="3.40" height="3.40" fill="#cfe4ff" stroke="#3f97fb" stroke-width="1.2"/>
<rect x="335.00" y="309.90" width="3.40" height="3.40" fill="#cfe4ff" stroke="#3f97fb" stroke-width="1.2"/>
<rect x="319.40" y="319.20" width="3.40" height="3.40" fill="#cfe4ff" stroke="#3f97fb" stroke-width="1.2"/>
<rect x="335.90" y="322.30" width="3.40" height="3.40" fill="#cfe4ff" stroke="#3f97fb" stroke-width="1.2"/>
<rect x="288.15" y="240.55" width="4.30" height="4.30" fill="#ff7f0e"/>
<rect x="299.55" y="241.85" width="4.30" height="4.30" fill="#ff7f0e"/>
<rect x="264.45" y="263.95" width="4.30" height="4.30" fill="#ff7f0e"/>
<rect x="321.85" y="241.65" width="4.30" height="4.30" fill="#ff7f0e"/>
<rect x="320.45" y="247.85" width="4.30" height="4.30" fill="#ff7f0e"/>
<rect x="320.45" y="256.25" width="4.30" height="4.30" fill="#ff7f0e"/>
<rect x="316.75" y="263.95" width="4.30" height="4.30" fill="#ff7f0e"/>
<rect x="336.95" y="267.45" width="4.30" height="4.30" fill="#ff7f0e"/>
<rect x="345.25" y="275.85" width="4.30" height="4.30" fill="#ff7f0e"/>
<rect x="369.55" y="253.15" width="4.30" height="4.30" fill="#ff7f0e"/>
<rect x="300.55" y="277.15" width="4.30" height="4.30" fill="#ff7f0e"/>
<rect x="294.35" y="279.65" width="4.30" height="4.30" fill="#ff7f0e"/>
<rect x="316.85" y="263.65" width="4.30" height="4.30" fill="#ff7f0e"/>
<rect x="300.35" y="277.05" width="4.30" height="4.30" fill="#ff7f0e"/>
<rect x="345.35" y="275.85" width="4.30" height="4.30" fill="#ff7f0e"/>
<rect x="329.85" y="282.65" width="4.30" height="4.30" fill="#ff7f0e"/>
<rect x="339.15" y="283.25" width="4.30" height="4.30" fill="#ff7f0e"/>
<rect x="342.25" y="289.45" width="4.30" height="4.30" fill="#ff7f0e"/>
<rect x="314.75" y="299.75" width="4.30" height="4.30" fill="#ff7f0e"/>
<rect x="347.35" y="311.15" width="4.30" height="4.30" fill="#ff7f0e"/>
<path d="M332.30 271.60L334.40 273.70L332.30 275.80L330.20 273.70Z" fill="#d8f7f3" stroke="#4fd9cc" stroke-width="1.2"/>
<path d="M364.30 275.90L366.40 278.00L364.30 280.10L362.20 278.00Z" fill="#d8f7f3" stroke="#4fd9cc" stroke-width="1.2"/>
<path d="M361.50 295.70L363.60 297.80L361.50 299.90L359.40 297.80Z" fill="#d8f7f3" stroke="#4fd9cc" stroke-width="1.2"/>
<circle cx="264.10" cy="267.10" r="2.05" fill="#d5ecd5" stroke="#3fa33f" stroke-width="1.3"/>
<circle cx="335.40" cy="268.50" r="2.05" fill="#d5ecd5" stroke="#3fa33f" stroke-width="1.3"/>
<path d="M279.40 249.10L283.40 249.10L281.40 252.60Z" fill="#f5c400"/>
<path d="M290.80 270.30L294.80 270.30L292.80 273.80Z" fill="#f5c400"/>
<path d="M297.60 273.90L301.60 273.90L299.60 277.40Z" fill="#f5c400"/>
<path d="M318.10 246.40L322.10 246.40L320.10 249.90Z" fill="#f5c400"/>
<path d="M311.30 253.80L315.30 253.80L313.30 257.30Z" fill="#f5c400"/>
<path d="M362.90 257.30L366.90 257.30L364.90 260.80Z" fill="#f5c400"/>
<path d="M354.60 270.10L358.60 270.10L356.60 273.60Z" fill="#f5c400"/>
<path d="M377.80 274.50L381.80 274.50L379.80 278.00Z" fill="#f5c400"/>
<path d="M384.20 275.50L388.20 275.50L386.20 279.00Z" fill="#f5c400"/>
<path d="M288.90 291.20L292.90 291.20L290.90 294.70Z" fill="#f5c400"/>
<path d="M304.80 286.00L308.80 286.00L306.80 289.50Z" fill="#f5c400"/>
<circle cx="340.50" cy="226.40" r="2.25" fill="#ee11ee"/>
<circle cx="335.00" cy="243.40" r="2.25" fill="#ee11ee"/>
<circle cx="307.50" cy="250.20" r="2.25" fill="#ee11ee"/>
<circle cx="375.60" cy="247.50" r="2.25" fill="#ee11ee"/>
</g>
<clipPath id="cpg"><rect x="397.60" y="203.10" width="176.80" height="154.10"/></clipPath>
<g clip-path="url(#cpg)">
<path d="M452.30 250.60h5M454.80 250.60V259.50" stroke="#ff9ea6" stroke-width="1.1" fill="none"/><path d="M452.20 258.20h5.2L454.80 262.50Z" fill="#ff9ea6"/><path d="M448.60 250.60H461.00M448.60 248.60v4M461.00 248.60v4" stroke="#ff9ea6" stroke-width="1.1" fill="none"/>
<path d="M453.20 262.60H457.20M455.20 256.60V268.60" stroke="#b3d5fd" stroke-width="1.1" fill="none"/>
<path d="M459.00 278.00H463.00M461.00 272.00V284.00" stroke="#b3d5fd" stroke-width="1.1" fill="none"/>
<path d="M404.30 283.10H408.30M406.30 274.10V292.10" stroke="#b3d5fd" stroke-width="1.1" fill="none"/>
<path d="M408.00 299.80H412.00M410.00 293.80V305.80" stroke="#b3d5fd" stroke-width="1.1" fill="none"/>
<path d="M431.70 324.00H435.70M433.70 317.00V331.00" stroke="#b3d5fd" stroke-width="1.1" fill="none"/>
<path d="M439.80 307.10H443.80M441.80 301.10V313.10" stroke="#b3d5fd" stroke-width="1.1" fill="none"/>
<path d="M455.30 311.60H459.30M457.30 305.60V317.60" stroke="#b3d5fd" stroke-width="1.1" fill="none"/>
<path d="M457.60 302.30H461.60M459.60 296.30V308.30" stroke="#b3d5fd" stroke-width="1.1" fill="none"/>
<path d="M468.30 306.40H472.30M470.30 300.40V312.40" stroke="#b3d5fd" stroke-width="1.1" fill="none"/>
<path d="M477.00 309.10H481.00M479.00 303.10V315.10" stroke="#b3d5fd" stroke-width="1.1" fill="none"/>
<path d="M468.30 320.90H472.30M470.30 314.90V326.90" stroke="#b3d5fd" stroke-width="1.1" fill="none"/>
<path d="M471.80 286.40H475.80M473.80 280.40V292.40" stroke="#b3d5fd" stroke-width="1.1" fill="none"/>
<path d="M459.00 278.20H463.00M461.00 272.20V284.20" stroke="#b3d5fd" stroke-width="1.1" fill="none"/>
<path d="M485.50 275.90H489.50M487.50 269.90V281.90" stroke="#b3d5fd" stroke-width="1.1" fill="none"/>
<path d="M486.60 281.30H490.60M488.60 275.30V287.30" stroke="#b3d5fd" stroke-width="1.1" fill="none"/>
<path d="M476.90 309.10H480.90M478.90 303.10V315.10" stroke="#b3d5fd" stroke-width="1.1" fill="none"/>
<path d="M505.70 243.80H509.70M507.70 235.80V251.80" stroke="#ffcaa3" stroke-width="1.1" fill="none"/>
<path d="M521.20 242.70H525.20M523.20 234.70V250.70" stroke="#ffcaa3" stroke-width="1.1" fill="none"/>
<path d="M551.10 244.00H555.10M553.10 233.00V255.00" stroke="#ffcaa3" stroke-width="1.1" fill="none"/>
<path d="M546.60 250.00H550.60M548.60 240.00V260.00" stroke="#ffcaa3" stroke-width="1.1" fill="none"/>
<path d="M549.70 255.30H553.70M551.70 243.30V267.30" stroke="#ffcaa3" stroke-width="1.1" fill="none"/>
<path d="M523.30 258.40H527.30M525.30 249.40V267.40" stroke="#ffcaa3" stroke-width="1.1" fill="none"/>
<path d="M503.00 266.10H507.00M505.00 258.10V274.10" stroke="#ffcaa3" stroke-width="1.1" fill="none"/>
<path d="M523.30 266.10H527.30M525.30 259.10V273.10" stroke="#ffcaa3" stroke-width="1.1" fill="none"/>
<path d="M543.30 266.10H547.30M545.30 258.10V274.10" stroke="#ffcaa3" stroke-width="1.1" fill="none"/>
<path d="M556.30 269.20H560.30M558.30 262.20V276.20" stroke="#ffcaa3" stroke-width="1.1" fill="none"/>
<path d="M528.00 278.90H532.00M530.00 272.90V284.90" stroke="#ffcaa3" stroke-width="1.1" fill="none"/>
<path d="M563.90 278.00H567.90M565.90 273.00V283.00" stroke="#ffcaa3" stroke-width="1.1" fill="none"/>
<path d="M482.70 292.00H486.70M484.70 285.00V299.00" stroke="#ffcaa3" stroke-width="1.1" fill="none"/>
<path d="M483.80 284.40H487.80M485.80 277.40V291.40" stroke="#ffcaa3" stroke-width="1.1" fill="none"/>
<path d="M484.50 283.70H488.50M486.50 276.70V290.70" stroke="#ffcaa3" stroke-width="1.1" fill="none"/>
<path d="M492.40 285.20H496.40M494.40 278.20V292.20" stroke="#ffcaa3" stroke-width="1.1" fill="none"/>
<path d="M482.90 292.00H486.90M484.90 285.00V299.00" stroke="#ffcaa3" stroke-width="1.1" fill="none"/>
<path d="M528.30 279.20H532.30M530.30 272.20V286.20" stroke="#ffcaa3" stroke-width="1.1" fill="none"/>
<path d="M529.90 281.70H533.90M531.90 274.70V288.70" stroke="#ffcaa3" stroke-width="1.1" fill="none"/>
<path d="M527.90 291.00H531.90M529.90 284.00V298.00" stroke="#ffcaa3" stroke-width="1.1" fill="none"/>
<path d="M533.40 301.90H537.40M535.40 290.90V312.90" stroke="#ffcaa3" stroke-width="1.1" fill="none"/>
<path d="M502.10 313.30H506.10M504.10 305.30V321.30" stroke="#ffcaa3" stroke-width="1.1" fill="none"/>
<path d="M426.60 259.90H432.60M429.60 245.90V273.90" stroke="#bbf2ec" stroke-width="1.1" fill="none"/>
<path d="M449.10 273.70H453.10M451.10 267.70V279.70" stroke="#bbf2ec" stroke-width="1.1" fill="none"/>
<path d="M456.90 273.30H460.90M458.90 267.30V279.30" stroke="#bbf2ec" stroke-width="1.1" fill="none"/>
<path d="M443.50 303.40H447.50M445.50 297.40V309.40" stroke="#bbf2ec" stroke-width="1.1" fill="none"/>
<path d="M443.10 315.10H447.10M445.10 305.10V325.10" stroke="#bbf2ec" stroke-width="1.1" fill="none"/>
<path d="M451.40 297.80H455.40M453.40 291.80V303.80" stroke="#bbf2ec" stroke-width="1.1" fill="none"/>
<path d="M455.90 287.90H459.90M457.90 281.90V293.90" stroke="#bbf2ec" stroke-width="1.1" fill="none"/>
<path d="M449.30 274.00H453.30M451.30 268.00V280.00" stroke="#bbf2ec" stroke-width="1.1" fill="none"/>
<path d="M448.70 268.70H452.70M450.70 263.70V273.70" stroke="#bde0bd" stroke-width="1.1" fill="none"/>
<path d="M458.00 267.10H462.00M460.00 262.10V272.10" stroke="#bde0bd" stroke-width="1.1" fill="none"/>
<path d="M453.20 277.80H457.20M455.20 272.80V282.80" stroke="#bde0bd" stroke-width="1.1" fill="none"/>
<path d="M426.00 286.40H430.00M428.00 278.40V294.40" stroke="#bde0bd" stroke-width="1.1" fill="none"/>
<path d="M459.60 255.70H463.60M461.60 248.70V262.70" stroke="#fde598" stroke-width="1.1" fill="none"/>
<path d="M461.50 269.20H465.50M463.50 263.20V275.20" stroke="#fde598" stroke-width="1.1" fill="none"/>
<path d="M470.40 272.30H474.40M472.40 266.30V278.30" stroke="#fde598" stroke-width="1.1" fill="none"/>
<path d="M474.50 271.80H478.50M476.50 265.80V277.80" stroke="#fde598" stroke-width="1.1" fill="none"/>
<path d="M468.90 278.40H472.90M470.90 272.40V284.40" stroke="#fde598" stroke-width="1.1" fill="none"/>
<path d="M502.00 247.90H506.00M504.00 237.90V257.90" stroke="#fde598" stroke-width="1.1" fill="none"/>
<path d="M484.70 275.40H488.70M486.70 269.40V281.40" stroke="#fde598" stroke-width="1.1" fill="none"/>
<path d="M488.20 276.00H492.20M490.20 270.00V282.00" stroke="#fde598" stroke-width="1.1" fill="none"/>
<path d="M463.10 276.50H467.10M465.10 270.50V282.50" stroke="#fde598" stroke-width="1.1" fill="none"/>
<path d="M464.80 287.90H468.80M466.80 281.90V293.90" stroke="#fde598" stroke-width="1.1" fill="none"/>
<path d="M468.30 293.00H472.30M470.30 287.00V299.00" stroke="#fde598" stroke-width="1.1" fill="none"/>
<path d="M465.20 298.20H469.20M467.20 292.20V304.20" stroke="#fde598" stroke-width="1.1" fill="none"/>
<path d="M484.90 275.50H488.90M486.90 269.50V281.50" stroke="#fde598" stroke-width="1.1" fill="none"/>
<path d="M488.00 276.10H492.00M490.00 270.10V282.10" stroke="#fde598" stroke-width="1.1" fill="none"/>
<path d="M483.80 249.50H487.80M485.80 245.50V253.50" stroke="#ffbaba" stroke-width="1.1" fill="none"/>
<path d="M487.50 261.90H491.50M489.50 257.90V265.90" stroke="#ffbaba" stroke-width="1.1" fill="none"/>
<path d="M493.70 276.00H497.70M495.70 272.00V280.00" stroke="#ffbaba" stroke-width="1.1" fill="none"/>
<path d="M443.10 284.20H447.10M445.10 276.20V292.20" stroke="#ffbaba" stroke-width="1.1" fill="none"/>
<path d="M458.60 284.20H462.60M460.60 280.20V288.20" stroke="#ffbaba" stroke-width="1.1" fill="none"/>
<path d="M474.90 250.00H478.90M476.90 245.00V255.00" stroke="#f8aaf8" stroke-width="1.1" fill="none"/>
<path d="M484.20 243.40H488.20M486.20 241.40V245.40" stroke="#f8aaf8" stroke-width="1.1" fill="none"/>
<path d="M523.90 226.40H527.90M525.90 224.40V228.40" stroke="#f8aaf8" stroke-width="1.1" fill="none"/>
<path d="M496.40 247.50H500.40M498.40 245.50V249.50" stroke="#f8aaf8" stroke-width="1.1" fill="none"/>
<rect x="453.50" y="260.90" width="3.40" height="3.40" fill="#cfe4ff" stroke="#3f97fb" stroke-width="1.2"/>
<rect x="459.30" y="276.30" width="3.40" height="3.40" fill="#cfe4ff" stroke="#3f97fb" stroke-width="1.2"/>
<rect x="404.60" y="281.40" width="3.40" height="3.40" fill="#cfe4ff" stroke="#3f97fb" stroke-width="1.2"/>
<rect x="408.30" y="298.10" width="3.40" height="3.40" fill="#cfe4ff" stroke="#3f97fb" stroke-width="1.2"/>
<rect x="432.00" y="322.30" width="3.40" height="3.40" fill="#cfe4ff" stroke="#3f97fb" stroke-width="1.2"/>
<rect x="440.10" y="305.40" width="3.40" height="3.40" fill="#cfe4ff" stroke="#3f97fb" stroke-width="1.2"/>
<rect x="455.60" y="309.90" width="3.40" height="3.40" fill="#cfe4ff" stroke="#3f97fb" stroke-width="1.2"/>
<rect x="457.90" y="300.60" width="3.40" height="3.40" fill="#cfe4ff" stroke="#3f97fb" stroke-width="1.2"/>
<rect x="468.60" y="304.70" width="3.40" height="3.40" fill="#cfe4ff" stroke="#3f97fb" stroke-width="1.2"/>
<rect x="477.30" y="307.40" width="3.40" height="3.40" fill="#cfe4ff" stroke="#3f97fb" stroke-width="1.2"/>
<rect x="468.60" y="319.20" width="3.40" height="3.40" fill="#cfe4ff" stroke="#3f97fb" stroke-width="1.2"/>
<rect x="472.10" y="284.70" width="3.40" height="3.40" fill="#cfe4ff" stroke="#3f97fb" stroke-width="1.2"/>
<rect x="459.30" y="276.50" width="3.40" height="3.40" fill="#cfe4ff" stroke="#3f97fb" stroke-width="1.2"/>
<rect x="485.80" y="274.20" width="3.40" height="3.40" fill="#cfe4ff" stroke="#3f97fb" stroke-width="1.2"/>
<rect x="486.90" y="279.60" width="3.40" height="3.40" fill="#cfe4ff" stroke="#3f97fb" stroke-width="1.2"/>
<rect x="477.20" y="307.40" width="3.40" height="3.40" fill="#cfe4ff" stroke="#3f97fb" stroke-width="1.2"/>
<rect x="505.55" y="241.65" width="4.30" height="4.30" fill="#ff7f0e"/>
<rect x="521.05" y="240.55" width="4.30" height="4.30" fill="#ff7f0e"/>
<rect x="550.95" y="241.85" width="4.30" height="4.30" fill="#ff7f0e"/>
<rect x="546.45" y="247.85" width="4.30" height="4.30" fill="#ff7f0e"/>
<rect x="549.55" y="253.15" width="4.30" height="4.30" fill="#ff7f0e"/>
<rect x="523.15" y="256.25" width="4.30" height="4.30" fill="#ff7f0e"/>
<rect x="502.85" y="263.95" width="4.30" height="4.30" fill="#ff7f0e"/>
<rect x="523.15" y="263.95" width="4.30" height="4.30" fill="#ff7f0e"/>
<rect x="543.15" y="263.95" width="4.30" height="4.30" fill="#ff7f0e"/>
<rect x="556.15" y="267.05" width="4.30" height="4.30" fill="#ff7f0e"/>
<rect x="527.85" y="276.75" width="4.30" height="4.30" fill="#ff7f0e"/>
<rect x="563.75" y="275.85" width="4.30" height="4.30" fill="#ff7f0e"/>
<rect x="482.55" y="289.85" width="4.30" height="4.30" fill="#ff7f0e"/>
<rect x="483.65" y="282.25" width="4.30" height="4.30" fill="#ff7f0e"/>
<rect x="484.35" y="281.55" width="4.30" height="4.30" fill="#ff7f0e"/>
<rect x="492.25" y="283.05" width="4.30" height="4.30" fill="#ff7f0e"/>
<rect x="482.75" y="289.85" width="4.30" height="4.30" fill="#ff7f0e"/>
<rect x="528.15" y="277.05" width="4.30" height="4.30" fill="#ff7f0e"/>
<rect x="529.75" y="279.55" width="4.30" height="4.30" fill="#ff7f0e"/>
<rect x="527.75" y="288.85" width="4.30" height="4.30" fill="#ff7f0e"/>
<rect x="533.25" y="299.75" width="4.30" height="4.30" fill="#ff7f0e"/>
<rect x="501.95" y="311.15" width="4.30" height="4.30" fill="#ff7f0e"/>
<path d="M429.60 257.80L431.70 259.90L429.60 262.00L427.50 259.90Z" fill="#d8f7f3" stroke="#4fd9cc" stroke-width="1.2"/>
<path d="M451.10 271.60L453.20 273.70L451.10 275.80L449.00 273.70Z" fill="#d8f7f3" stroke="#4fd9cc" stroke-width="1.2"/>
<path d="M458.90 271.20L461.00 273.30L458.90 275.40L456.80 273.30Z" fill="#d8f7f3" stroke="#4fd9cc" stroke-width="1.2"/>
<path d="M445.50 301.30L447.60 303.40L445.50 305.50L443.40 303.40Z" fill="#d8f7f3" stroke="#4fd9cc" stroke-width="1.2"/>
<path d="M445.10 313.00L447.20 315.10L445.10 317.20L443.00 315.10Z" fill="#d8f7f3" stroke="#4fd9cc" stroke-width="1.2"/>
<path d="M453.40 295.70L455.50 297.80L453.40 299.90L451.30 297.80Z" fill="#d8f7f3" stroke="#4fd9cc" stroke-width="1.2"/>
<path d="M457.90 285.80L460.00 287.90L457.90 290.00L455.80 287.90Z" fill="#d8f7f3" stroke="#4fd9cc" stroke-width="1.2"/>
<path d="M451.30 271.90L453.40 274.00L451.30 276.10L449.20 274.00Z" fill="#d8f7f3" stroke="#4fd9cc" stroke-width="1.2"/>
<circle cx="450.70" cy="268.70" r="2.05" fill="#d5ecd5" stroke="#3fa33f" stroke-width="1.3"/>
<circle cx="460.00" cy="267.10" r="2.05" fill="#d5ecd5" stroke="#3fa33f" stroke-width="1.3"/>
<circle cx="455.20" cy="277.80" r="2.05" fill="#d5ecd5" stroke="#3fa33f" stroke-width="1.3"/>
<circle cx="428.00" cy="286.40" r="2.05" fill="#d5ecd5" stroke="#3fa33f" stroke-width="1.3"/>
<path d="M459.60 254.20L463.60 254.20L461.60 257.70Z" fill="#f5c400"/>
<path d="M461.50 267.70L465.50 267.70L463.50 271.20Z" fill="#f5c400"/>
<path d="M470.40 270.80L474.40 270.80L472.40 274.30Z" fill="#f5c400"/>
<path d="M474.50 270.30L478.50 270.30L476.50 273.80Z" fill="#f5c400"/>
<path d="M468.90 276.90L472.90 276.90L470.90 280.40Z" fill="#f5c400"/>
<path d="M502.00 246.40L506.00 246.40L504.00 249.90Z" fill="#f5c400"/>
<path d="M484.70 273.90L488.70 273.90L486.70 277.40Z" fill="#f5c400"/>
<path d="M488.20 274.50L492.20 274.50L490.20 278.00Z" fill="#f5c400"/>
<path d="M463.10 275.00L467.10 275.00L465.10 278.50Z" fill="#f5c400"/>
<path d="M464.80 286.40L468.80 286.40L466.80 289.90Z" fill="#f5c400"/>
<path d="M468.30 291.50L472.30 291.50L470.30 295.00Z" fill="#f5c400"/>
<path d="M465.20 296.70L469.20 296.70L467.20 300.20Z" fill="#f5c400"/>
<path d="M484.90 274.00L488.90 274.00L486.90 277.50Z" fill="#f5c400"/>
<path d="M488.00 274.60L492.00 274.60L490.00 278.10Z" fill="#f5c400"/>
<polygon points="485.80,245.50 486.98,247.88 489.60,248.26 487.70,250.12 488.15,252.74 485.80,251.50 483.45,252.74 483.90,250.12 482.00,248.26 484.62,247.88" fill="#ff1f1f" stroke="#ff1f1f" stroke-width="0.5" stroke-linejoin="round"/>
<polygon points="489.50,257.90 490.68,260.28 493.30,260.66 491.40,262.52 491.85,265.14 489.50,263.90 487.15,265.14 487.60,262.52 485.70,260.66 488.32,260.28" fill="#ff1f1f" stroke="#ff1f1f" stroke-width="0.5" stroke-linejoin="round"/>
<polygon points="495.70,272.00 496.88,274.38 499.50,274.76 497.60,276.62 498.05,279.24 495.70,278.00 493.35,279.24 493.80,276.62 491.90,274.76 494.52,274.38" fill="#ff1f1f" stroke="#ff1f1f" stroke-width="0.5" stroke-linejoin="round"/>
<polygon points="445.10,280.20 446.28,282.58 448.90,282.96 447.00,284.82 447.45,287.44 445.10,286.20 442.75,287.44 443.20,284.82 441.30,282.96 443.92,282.58" fill="#ff1f1f" stroke="#ff1f1f" stroke-width="0.5" stroke-linejoin="round"/>
<polygon points="460.60,280.20 461.78,282.58 464.40,282.96 462.50,284.82 462.95,287.44 460.60,286.20 458.25,287.44 458.70,284.82 456.80,282.96 459.42,282.58" fill="#ff1f1f" stroke="#ff1f1f" stroke-width="0.5" stroke-linejoin="round"/>
<circle cx="476.90" cy="250.00" r="2.25" fill="#ee11ee"/>
<circle cx="486.20" cy="243.40" r="2.25" fill="#ee11ee"/>
<circle cx="525.90" cy="226.40" r="2.25" fill="#ee11ee"/>
<circle cx="498.40" cy="247.50" r="2.25" fill="#ee11ee"/>
</g>
<path d="M35.50 136.08h3.0M212.40 136.08h-3.0M35.50 105.52h3.0M212.40 105.52h-3.0M35.50 74.96h3.0M212.40 74.96h-3.0M35.50 57.08h3.0M212.40 57.08h-3.0M35.50 44.40h3.0M212.40 44.40h-3.0M35.50 34.56h3.0M212.40 34.56h-3.0M35.50 4.00h3.0M212.40 4.00h-3.0M35.50 158.60h1.7M212.40 158.60h-1.7M35.50 145.92h1.7M212.40 145.92h-1.7M35.50 128.04h1.7M212.40 128.04h-1.7M35.50 121.24h1.7M212.40 121.24h-1.7M35.50 115.36h1.7M212.40 115.36h-1.7M35.50 110.16h1.7M212.40 110.16h-1.7M35.50 26.52h1.7M212.40 26.52h-1.7M35.50 19.73h1.7M212.40 19.73h-1.7M35.50 13.84h1.7M212.40 13.84h-1.7M35.50 8.65h1.7M212.40 8.65h-1.7M39.05 158.60v-1.7M39.05 4.00v1.7M42.50 158.60v-3.0M42.50 4.00v3.0M65.20 158.60v-1.7M65.20 4.00v1.7M78.47 158.60v-1.7M78.47 4.00v1.7M87.90 158.60v-1.7M87.90 4.00v1.7M95.20 158.60v-1.7M95.20 4.00v1.7M101.17 158.60v-1.7M101.17 4.00v1.7M106.22 158.60v-1.7M106.22 4.00v1.7M110.59 158.60v-1.7M110.59 4.00v1.7M114.45 158.60v-1.7M114.45 4.00v1.7M117.90 158.60v-3.0M117.90 4.00v3.0M140.60 158.60v-1.7M140.60 4.00v1.7M153.87 158.60v-1.7M153.87 4.00v1.7M163.30 158.60v-1.7M163.30 4.00v1.7M170.60 158.60v-1.7M170.60 4.00v1.7M176.57 158.60v-1.7M176.57 4.00v1.7M181.62 158.60v-1.7M181.62 4.00v1.7M185.99 158.60v-1.7M185.99 4.00v1.7M189.85 158.60v-1.7M189.85 4.00v1.7M193.30 158.60v-3.0M193.30 4.00v3.0" class="tk"/>
<rect x="35.50" y="4.00" width="176.90" height="154.60" class="fr"/>
<text x="33.30" y="140.68" text-anchor="end" class="tl" textLength="16.43" lengthAdjust="spacingAndGlyphs">0.5</text>
<text x="33.30" y="110.12" text-anchor="end" class="tl" textLength="6.57" lengthAdjust="spacingAndGlyphs">1</text>
<text x="33.30" y="79.56" text-anchor="end" class="tl" textLength="6.57" lengthAdjust="spacingAndGlyphs">2</text>
<text x="33.30" y="61.68" text-anchor="end" class="tl" textLength="6.57" lengthAdjust="spacingAndGlyphs">3</text>
<text x="33.30" y="49.00" text-anchor="end" class="tl" textLength="6.57" lengthAdjust="spacingAndGlyphs">4</text>
<text x="33.30" y="39.16" text-anchor="end" class="tl" textLength="6.57" lengthAdjust="spacingAndGlyphs">5</text>
<text x="33.30" y="8.60" text-anchor="end" class="tl" textLength="13.15" lengthAdjust="spacingAndGlyphs">10</text>
<text x="42.50" y="169.00" text-anchor="middle" class="tl" textLength="6.57" lengthAdjust="spacingAndGlyphs">1</text>
<text x="117.90" y="169.00" text-anchor="middle" class="tl" textLength="13.15" lengthAdjust="spacingAndGlyphs">10</text>
<text x="193.30" y="169.00" text-anchor="middle" class="tl" textLength="19.72" lengthAdjust="spacingAndGlyphs">100</text>
<path d="M216.60 136.08h3.0M393.40 136.08h-3.0M216.60 105.52h3.0M393.40 105.52h-3.0M216.60 74.96h3.0M393.40 74.96h-3.0M216.60 57.08h3.0M393.40 57.08h-3.0M216.60 44.40h3.0M393.40 44.40h-3.0M216.60 34.56h3.0M393.40 34.56h-3.0M216.60 4.00h3.0M393.40 4.00h-3.0M216.60 158.60h1.7M393.40 158.60h-1.7M216.60 145.92h1.7M393.40 145.92h-1.7M216.60 128.04h1.7M393.40 128.04h-1.7M216.60 121.24h1.7M393.40 121.24h-1.7M216.60 115.36h1.7M393.40 115.36h-1.7M216.60 110.16h1.7M393.40 110.16h-1.7M216.60 26.52h1.7M393.40 26.52h-1.7M216.60 19.73h1.7M393.40 19.73h-1.7M216.60 13.84h1.7M393.40 13.84h-1.7M216.60 8.65h1.7M393.40 8.65h-1.7M220.16 158.60v-1.7M220.16 4.00v1.7M223.60 158.60v-3.0M223.60 4.00v3.0M246.21 158.60v-1.7M246.21 4.00v1.7M259.43 158.60v-1.7M259.43 4.00v1.7M268.81 158.60v-1.7M268.81 4.00v1.7M276.09 158.60v-1.7M276.09 4.00v1.7M282.04 158.60v-1.7M282.04 4.00v1.7M287.07 158.60v-1.7M287.07 4.00v1.7M291.42 158.60v-1.7M291.42 4.00v1.7M295.26 158.60v-1.7M295.26 4.00v1.7M298.70 158.60v-3.0M298.70 4.00v3.0M321.31 158.60v-1.7M321.31 4.00v1.7M334.53 158.60v-1.7M334.53 4.00v1.7M343.91 158.60v-1.7M343.91 4.00v1.7M351.19 158.60v-1.7M351.19 4.00v1.7M357.14 158.60v-1.7M357.14 4.00v1.7M362.17 158.60v-1.7M362.17 4.00v1.7M366.52 158.60v-1.7M366.52 4.00v1.7M370.36 158.60v-1.7M370.36 4.00v1.7M373.80 158.60v-3.0M373.80 4.00v3.0" class="tk"/>
<rect x="216.60" y="4.00" width="176.80" height="154.60" class="fr"/>
<text x="223.60" y="169.00" text-anchor="middle" class="tl" textLength="6.57" lengthAdjust="spacingAndGlyphs">1</text>
<text x="298.70" y="169.00" text-anchor="middle" class="tl" textLength="13.15" lengthAdjust="spacingAndGlyphs">10</text>
<text x="373.80" y="169.00" text-anchor="middle" class="tl" textLength="19.72" lengthAdjust="spacingAndGlyphs">100</text>
<path d="M397.60 136.08h3.0M574.40 136.08h-3.0M397.60 105.52h3.0M574.40 105.52h-3.0M397.60 74.96h3.0M574.40 74.96h-3.0M397.60 57.08h3.0M574.40 57.08h-3.0M397.60 44.40h3.0M574.40 44.40h-3.0M397.60 34.56h3.0M574.40 34.56h-3.0M397.60 4.00h3.0M574.40 4.00h-3.0M397.60 158.60h1.7M574.40 158.60h-1.7M397.60 145.92h1.7M574.40 145.92h-1.7M397.60 128.04h1.7M574.40 128.04h-1.7M397.60 121.24h1.7M574.40 121.24h-1.7M397.60 115.36h1.7M574.40 115.36h-1.7M397.60 110.16h1.7M574.40 110.16h-1.7M397.60 26.52h1.7M574.40 26.52h-1.7M397.60 19.73h1.7M574.40 19.73h-1.7M397.60 13.84h1.7M574.40 13.84h-1.7M397.60 8.65h1.7M574.40 8.65h-1.7M465.50 158.60v-3.0M465.50 4.00v3.0M533.50 158.60v-3.0M533.50 4.00v3.0" class="tk"/>
<rect x="397.60" y="4.00" width="176.80" height="154.60" class="fr"/>
<text x="465.50" y="169.00" text-anchor="middle" class="tl">10<tspan dy="-4.2" font-size="7.6">11</tspan></text>
<text x="533.50" y="169.00" text-anchor="middle" class="tl">10<tspan dy="-4.2" font-size="7.6">13</tspan></text>
<path d="M578.50 136.08h3.0M755.50 136.08h-3.0M578.50 105.52h3.0M755.50 105.52h-3.0M578.50 74.96h3.0M755.50 74.96h-3.0M578.50 57.08h3.0M755.50 57.08h-3.0M578.50 44.40h3.0M755.50 44.40h-3.0M578.50 34.56h3.0M755.50 34.56h-3.0M578.50 4.00h3.0M755.50 4.00h-3.0M578.50 158.60h1.7M755.50 158.60h-1.7M578.50 145.92h1.7M755.50 145.92h-1.7M578.50 128.04h1.7M755.50 128.04h-1.7M578.50 121.24h1.7M755.50 121.24h-1.7M578.50 115.36h1.7M755.50 115.36h-1.7M578.50 110.16h1.7M755.50 110.16h-1.7M578.50 26.52h1.7M755.50 26.52h-1.7M578.50 19.73h1.7M755.50 19.73h-1.7M578.50 13.84h1.7M755.50 13.84h-1.7M578.50 8.65h1.7M755.50 8.65h-1.7M581.22 158.60v-1.7M581.22 4.00v1.7M583.75 158.60v-3.0M583.75 4.00v3.0M600.43 158.60v-1.7M600.43 4.00v1.7M610.18 158.60v-1.7M610.18 4.00v1.7M617.10 158.60v-1.7M617.10 4.00v1.7M622.47 158.60v-1.7M622.47 4.00v1.7M626.86 158.60v-1.7M626.86 4.00v1.7M630.57 158.60v-1.7M630.57 4.00v1.7M633.78 158.60v-1.7M633.78 4.00v1.7M636.62 158.60v-1.7M636.62 4.00v1.7M639.15 158.60v-3.0M639.15 4.00v3.0M655.83 158.60v-1.7M655.83 4.00v1.7M665.58 158.60v-1.7M665.58 4.00v1.7M672.50 158.60v-1.7M672.50 4.00v1.7M677.87 158.60v-1.7M677.87 4.00v1.7M682.26 158.60v-1.7M682.26 4.00v1.7M685.97 158.60v-1.7M685.97 4.00v1.7M689.18 158.60v-1.7M689.18 4.00v1.7M692.02 158.60v-1.7M692.02 4.00v1.7M694.55 158.60v-3.0M694.55 4.00v3.0M711.23 158.60v-1.7M711.23 4.00v1.7M720.98 158.60v-1.7M720.98 4.00v1.7M727.90 158.60v-1.7M727.90 4.00v1.7M733.27 158.60v-1.7M733.27 4.00v1.7M737.66 158.60v-1.7M737.66 4.00v1.7M741.37 158.60v-1.7M741.37 4.00v1.7M744.58 158.60v-1.7M744.58 4.00v1.7M747.42 158.60v-1.7M747.42 4.00v1.7M749.95 158.60v-3.0M749.95 4.00v3.0" class="tk"/>
<rect x="578.50" y="4.00" width="177.00" height="154.60" class="fr"/>
<text x="583.75" y="169.00" text-anchor="middle" class="tl">10<tspan dy="-4.2" font-size="7.6">9</tspan></text>
<text x="639.15" y="169.00" text-anchor="middle" class="tl">10<tspan dy="-4.2" font-size="7.6">10</tspan></text>
<text x="694.55" y="169.00" text-anchor="middle" class="tl">10<tspan dy="-4.2" font-size="7.6">11</tspan></text>
<text x="749.95" y="169.00" text-anchor="middle" class="tl">10<tspan dy="-4.2" font-size="7.6">12</tspan></text>
<path d="M35.50 334.75h3.0M212.40 334.75h-3.0M35.50 304.29h3.0M212.40 304.29h-3.0M35.50 273.83h3.0M212.40 273.83h-3.0M35.50 256.01h3.0M212.40 256.01h-3.0M35.50 243.37h3.0M212.40 243.37h-3.0M35.50 233.56h3.0M212.40 233.56h-3.0M35.50 203.10h3.0M212.40 203.10h-3.0M35.50 357.20h1.7M212.40 357.20h-1.7M35.50 344.56h1.7M212.40 344.56h-1.7M35.50 326.74h1.7M212.40 326.74h-1.7M35.50 319.96h1.7M212.40 319.96h-1.7M35.50 314.10h1.7M212.40 314.10h-1.7M35.50 308.92h1.7M212.40 308.92h-1.7M35.50 225.55h1.7M212.40 225.55h-1.7M35.50 218.77h1.7M212.40 218.77h-1.7M35.50 212.91h1.7M212.40 212.91h-1.7M35.50 207.73h1.7M212.40 207.73h-1.7M38.35 357.20v-1.7M38.35 203.10v1.7M41.31 357.20v-1.7M41.31 203.10v1.7M43.92 357.20v-1.7M43.92 203.10v1.7M46.25 357.20v-3.0M46.25 203.10v3.0M61.60 357.20v-1.7M61.60 203.10v1.7M70.58 357.20v-1.7M70.58 203.10v1.7M76.96 357.20v-1.7M76.96 203.10v1.7M81.90 357.20v-1.7M81.90 203.10v1.7M85.94 357.20v-1.7M85.94 203.10v1.7M89.35 357.20v-1.7M89.35 203.10v1.7M92.31 357.20v-1.7M92.31 203.10v1.7M94.92 357.20v-1.7M94.92 203.10v1.7M97.25 357.20v-3.0M97.25 203.10v3.0M112.60 357.20v-1.7M112.60 203.10v1.7M121.58 357.20v-1.7M121.58 203.10v1.7M127.96 357.20v-1.7M127.96 203.10v1.7M132.90 357.20v-1.7M132.90 203.10v1.7M136.94 357.20v-1.7M136.94 203.10v1.7M140.35 357.20v-1.7M140.35 203.10v1.7M143.31 357.20v-1.7M143.31 203.10v1.7M145.92 357.20v-1.7M145.92 203.10v1.7M148.25 357.20v-3.0M148.25 203.10v3.0M163.60 357.20v-1.7M163.60 203.10v1.7M172.58 357.20v-1.7M172.58 203.10v1.7M178.96 357.20v-1.7M178.96 203.10v1.7M183.90 357.20v-1.7M183.90 203.10v1.7M187.94 357.20v-1.7M187.94 203.10v1.7M191.35 357.20v-1.7M191.35 203.10v1.7M194.31 357.20v-1.7M194.31 203.10v1.7M196.92 357.20v-1.7M196.92 203.10v1.7M199.25 357.20v-3.0M199.25 203.10v3.0" class="tk"/>
<rect x="35.50" y="203.10" width="176.90" height="154.10" class="fr"/>
<text x="33.30" y="339.35" text-anchor="end" class="tl" textLength="16.43" lengthAdjust="spacingAndGlyphs">0.5</text>
<text x="33.30" y="308.89" text-anchor="end" class="tl" textLength="6.57" lengthAdjust="spacingAndGlyphs">1</text>
<text x="33.30" y="278.43" text-anchor="end" class="tl" textLength="6.57" lengthAdjust="spacingAndGlyphs">2</text>
<text x="33.30" y="260.61" text-anchor="end" class="tl" textLength="6.57" lengthAdjust="spacingAndGlyphs">3</text>
<text x="33.30" y="247.97" text-anchor="end" class="tl" textLength="6.57" lengthAdjust="spacingAndGlyphs">4</text>
<text x="33.30" y="238.16" text-anchor="end" class="tl" textLength="6.57" lengthAdjust="spacingAndGlyphs">5</text>
<text x="33.30" y="207.70" text-anchor="end" class="tl" textLength="13.15" lengthAdjust="spacingAndGlyphs">10</text>
<text x="46.25" y="368.40" text-anchor="middle" class="tl" textLength="29.58" lengthAdjust="spacingAndGlyphs">0.001</text>
<text x="97.25" y="368.40" text-anchor="middle" class="tl" textLength="23.01" lengthAdjust="spacingAndGlyphs">0.01</text>
<text x="148.25" y="368.40" text-anchor="middle" class="tl" textLength="16.43" lengthAdjust="spacingAndGlyphs">0.1</text>
<text x="199.25" y="368.40" text-anchor="middle" class="tl" textLength="6.57" lengthAdjust="spacingAndGlyphs">1</text>
<path d="M216.60 334.75h3.0M393.40 334.75h-3.0M216.60 304.29h3.0M393.40 304.29h-3.0M216.60 273.83h3.0M393.40 273.83h-3.0M216.60 256.01h3.0M393.40 256.01h-3.0M216.60 243.37h3.0M393.40 243.37h-3.0M216.60 233.56h3.0M393.40 233.56h-3.0M216.60 203.10h3.0M393.40 203.10h-3.0M216.60 357.20h1.7M393.40 357.20h-1.7M216.60 344.56h1.7M393.40 344.56h-1.7M216.60 326.74h1.7M393.40 326.74h-1.7M216.60 319.96h1.7M393.40 319.96h-1.7M216.60 314.10h1.7M393.40 314.10h-1.7M216.60 308.92h1.7M393.40 308.92h-1.7M216.60 225.55h1.7M393.40 225.55h-1.7M216.60 218.77h1.7M393.40 218.77h-1.7M216.60 212.91h1.7M393.40 212.91h-1.7M216.60 207.73h1.7M393.40 207.73h-1.7M218.78 357.20v-1.7M218.78 203.10v1.7M221.75 357.20v-1.7M221.75 203.10v1.7M224.36 357.20v-1.7M224.36 203.10v1.7M226.70 357.20v-3.0M226.70 203.10v3.0M242.08 357.20v-1.7M242.08 203.10v1.7M251.08 357.20v-1.7M251.08 203.10v1.7M257.47 357.20v-1.7M257.47 203.10v1.7M262.42 357.20v-1.7M262.42 203.10v1.7M266.46 357.20v-1.7M266.46 203.10v1.7M269.88 357.20v-1.7M269.88 203.10v1.7M272.85 357.20v-1.7M272.85 203.10v1.7M275.46 357.20v-1.7M275.46 203.10v1.7M277.80 357.20v-3.0M277.80 203.10v3.0M293.18 357.20v-1.7M293.18 203.10v1.7M302.18 357.20v-1.7M302.18 203.10v1.7M308.57 357.20v-1.7M308.57 203.10v1.7M313.52 357.20v-1.7M313.52 203.10v1.7M317.56 357.20v-1.7M317.56 203.10v1.7M320.98 357.20v-1.7M320.98 203.10v1.7M323.95 357.20v-1.7M323.95 203.10v1.7M326.56 357.20v-1.7M326.56 203.10v1.7M328.90 357.20v-3.0M328.90 203.10v3.0M344.28 357.20v-1.7M344.28 203.10v1.7M353.28 357.20v-1.7M353.28 203.10v1.7M359.67 357.20v-1.7M359.67 203.10v1.7M364.62 357.20v-1.7M364.62 203.10v1.7M368.66 357.20v-1.7M368.66 203.10v1.7M372.08 357.20v-1.7M372.08 203.10v1.7M375.05 357.20v-1.7M375.05 203.10v1.7M377.66 357.20v-1.7M377.66 203.10v1.7M380.00 357.20v-3.0M380.00 203.10v3.0" class="tk"/>
<rect x="216.60" y="203.10" width="176.80" height="154.10" class="fr"/>
<text x="226.70" y="368.40" text-anchor="middle" class="tl" textLength="29.58" lengthAdjust="spacingAndGlyphs">0.001</text>
<text x="277.80" y="368.40" text-anchor="middle" class="tl" textLength="23.01" lengthAdjust="spacingAndGlyphs">0.01</text>
<text x="328.90" y="368.40" text-anchor="middle" class="tl" textLength="16.43" lengthAdjust="spacingAndGlyphs">0.1</text>
<text x="380.00" y="368.40" text-anchor="middle" class="tl" textLength="6.57" lengthAdjust="spacingAndGlyphs">1</text>
<path d="M397.60 334.75h3.0M574.40 334.75h-3.0M397.60 304.29h3.0M574.40 304.29h-3.0M397.60 273.83h3.0M574.40 273.83h-3.0M397.60 256.01h3.0M574.40 256.01h-3.0M397.60 243.37h3.0M574.40 243.37h-3.0M397.60 233.56h3.0M574.40 233.56h-3.0M397.60 203.10h3.0M574.40 203.10h-3.0M397.60 357.20h1.7M574.40 357.20h-1.7M397.60 344.56h1.7M574.40 344.56h-1.7M397.60 326.74h1.7M574.40 326.74h-1.7M397.60 319.96h1.7M574.40 319.96h-1.7M397.60 314.10h1.7M574.40 314.10h-1.7M397.60 308.92h1.7M574.40 308.92h-1.7M397.60 225.55h1.7M574.40 225.55h-1.7M397.60 218.77h1.7M574.40 218.77h-1.7M397.60 212.91h1.7M574.40 212.91h-1.7M397.60 207.73h1.7M574.40 207.73h-1.7M406.78 357.20v-1.7M406.78 203.10v1.7M414.12 357.20v-1.7M414.12 203.10v1.7M419.81 357.20v-1.7M419.81 203.10v1.7M424.47 357.20v-1.7M424.47 203.10v1.7M428.40 357.20v-1.7M428.40 203.10v1.7M431.81 357.20v-1.7M431.81 203.10v1.7M434.81 357.20v-1.7M434.81 203.10v1.7M437.50 357.20v-3.0M437.50 203.10v3.0M455.19 357.20v-1.7M455.19 203.10v1.7M465.53 357.20v-1.7M465.53 203.10v1.7M472.87 357.20v-1.7M472.87 203.10v1.7M478.56 357.20v-1.7M478.56 203.10v1.7M483.22 357.20v-1.7M483.22 203.10v1.7M487.15 357.20v-1.7M487.15 203.10v1.7M490.56 357.20v-1.7M490.56 203.10v1.7M493.56 357.20v-1.7M493.56 203.10v1.7M496.25 357.20v-3.0M496.25 203.10v3.0M513.94 357.20v-1.7M513.94 203.10v1.7M524.28 357.20v-1.7M524.28 203.10v1.7M531.62 357.20v-1.7M531.62 203.10v1.7M537.31 357.20v-1.7M537.31 203.10v1.7M541.97 357.20v-1.7M541.97 203.10v1.7M545.90 357.20v-1.7M545.90 203.10v1.7M549.31 357.20v-1.7M549.31 203.10v1.7M552.31 357.20v-1.7M552.31 203.10v1.7M555.00 357.20v-3.0M555.00 203.10v3.0M572.69 357.20v-1.7M572.69 203.10v1.7" class="tk"/>
<rect x="397.60" y="203.10" width="176.80" height="154.10" class="fr"/>
<text x="437.50" y="368.40" text-anchor="middle" class="tl" textLength="6.57" lengthAdjust="spacingAndGlyphs">1</text>
<text x="496.25" y="368.40" text-anchor="middle" class="tl" textLength="13.15" lengthAdjust="spacingAndGlyphs">10</text>
<text x="555.00" y="368.40" text-anchor="middle" class="tl" textLength="19.72" lengthAdjust="spacingAndGlyphs">100</text>
<text x="41.30" y="17.60" class="pl"><tspan font-style="normal">(</tspan>a<tspan font-style="normal">)</tspan></text>
<text x="119.80" y="137.30" class="an" font-style="italic">N</text>
<text x="129.80" y="137.30" class="an" textLength="6.9" lengthAdjust="spacingAndGlyphs">=</text>
<text x="138.10" y="137.30" class="an" textLength="21.4" lengthAdjust="spacingAndGlyphs">0.55</text>
<text x="164.40" y="137.30" class="an" font-style="italic">P</text>
<text x="173.50" y="137.30" class="an" textLength="6.9" lengthAdjust="spacingAndGlyphs">=</text>
<text x="183.00" y="137.30" class="an" textLength="22.0" lengthAdjust="spacingAndGlyphs">0.66</text>
<text x="109.80" y="151.20" class="an" font-style="italic">A</text>
<text x="118.80" y="151.20" class="an" textLength="6.9" lengthAdjust="spacingAndGlyphs">=</text>
<text x="130.10" y="151.20" class="an">−</text>
<text x="138.80" y="151.20" class="an" textLength="20.6" lengthAdjust="spacingAndGlyphs">0.27</text>
<text x="164.10" y="151.20" class="an" font-style="italic">σ</text>
<text x="173.10" y="151.20" class="an" textLength="6.9" lengthAdjust="spacingAndGlyphs">=</text>
<text x="183.00" y="151.20" class="an" textLength="22.0" lengthAdjust="spacingAndGlyphs">0.17</text>
<text x="222.40" y="17.60" class="pl"><tspan font-style="normal">(</tspan>b<tspan font-style="normal">)</tspan></text>
<text x="300.80" y="137.30" class="an" font-style="italic">N</text>
<text x="310.80" y="137.30" class="an" textLength="6.9" lengthAdjust="spacingAndGlyphs">=</text>
<text x="319.10" y="137.30" class="an" textLength="21.4" lengthAdjust="spacingAndGlyphs">0.52</text>
<text x="345.40" y="137.30" class="an" font-style="italic">P</text>
<text x="354.50" y="137.30" class="an" textLength="6.9" lengthAdjust="spacingAndGlyphs">=</text>
<text x="364.00" y="137.30" class="an" textLength="22.0" lengthAdjust="spacingAndGlyphs">0.63</text>
<text x="290.80" y="151.20" class="an" font-style="italic">A</text>
<text x="299.80" y="151.20" class="an" textLength="6.9" lengthAdjust="spacingAndGlyphs">=</text>
<text x="311.10" y="151.20" class="an">−</text>
<text x="319.80" y="151.20" class="an" textLength="20.6" lengthAdjust="spacingAndGlyphs">0.28</text>
<text x="345.10" y="151.20" class="an" font-style="italic">σ</text>
<text x="354.10" y="151.20" class="an" textLength="6.9" lengthAdjust="spacingAndGlyphs">=</text>
<text x="364.00" y="151.20" class="an" textLength="22.0" lengthAdjust="spacingAndGlyphs">0.18</text>
<text x="403.40" y="17.60" class="pl"><tspan font-style="normal">(</tspan>c<tspan font-style="normal">)</tspan></text>
<text x="481.80" y="137.30" class="an" font-style="italic">N</text>
<text x="491.80" y="137.30" class="an" textLength="6.9" lengthAdjust="spacingAndGlyphs">=</text>
<text x="500.10" y="137.30" class="an" textLength="21.4" lengthAdjust="spacingAndGlyphs">0.18</text>
<text x="526.40" y="137.30" class="an" font-style="italic">P</text>
<text x="535.50" y="137.30" class="an" textLength="6.9" lengthAdjust="spacingAndGlyphs">=</text>
<text x="545.00" y="137.30" class="an" textLength="22.0" lengthAdjust="spacingAndGlyphs">0.57</text>
<text x="471.80" y="151.20" class="an" font-style="italic">A</text>
<text x="480.80" y="151.20" class="an" textLength="6.9" lengthAdjust="spacingAndGlyphs">=</text>
<text x="492.10" y="151.20" class="an">−</text>
<text x="500.80" y="151.20" class="an" textLength="20.6" lengthAdjust="spacingAndGlyphs">1.83</text>
<text x="526.10" y="151.20" class="an" font-style="italic">σ</text>
<text x="535.10" y="151.20" class="an" textLength="6.9" lengthAdjust="spacingAndGlyphs">=</text>
<text x="545.00" y="151.20" class="an" textLength="22.0" lengthAdjust="spacingAndGlyphs">0.18</text>
<text x="584.30" y="17.60" class="pl"><tspan font-style="normal">(</tspan>d<tspan font-style="normal">)</tspan></text>
<text x="708.30" y="137.30" class="an" font-style="italic">P</text>
<text x="717.50" y="137.30" class="an" textLength="6.9" lengthAdjust="spacingAndGlyphs">=</text>
<text x="726.60" y="137.30" class="an" textLength="21.7" lengthAdjust="spacingAndGlyphs">0.21</text>
<text x="707.70" y="151.20" class="an" font-style="italic">σ</text>
<text x="716.90" y="151.20" class="an" textLength="6.9" lengthAdjust="spacingAndGlyphs">=</text>
<text x="726.60" y="151.20" class="an" textLength="21.7" lengthAdjust="spacingAndGlyphs">0.20</text>
<text x="41.30" y="216.70" class="pl"><tspan font-style="normal">(</tspan>e<tspan font-style="normal">)</tspan></text>
<text x="165.20" y="335.90" class="an" font-style="italic">P</text>
<text x="174.40" y="335.90" class="an" textLength="6.9" lengthAdjust="spacingAndGlyphs">=</text>
<text x="183.50" y="335.90" class="an" textLength="21.7" lengthAdjust="spacingAndGlyphs">0.01</text>
<text x="164.60" y="349.80" class="an" font-style="italic">σ</text>
<text x="173.80" y="349.80" class="an" textLength="6.9" lengthAdjust="spacingAndGlyphs">=</text>
<text x="183.50" y="349.80" class="an" textLength="21.7" lengthAdjust="spacingAndGlyphs">0.20</text>
<text x="222.40" y="216.70" class="pl"><tspan font-style="normal">(</tspan>f<tspan font-style="normal">)</tspan></text>
<text x="333.00" y="335.90" class="an" font-style="italic">P</text>
<text x="341.80" y="335.90" class="an" textLength="6.9" lengthAdjust="spacingAndGlyphs">=</text>
<text x="354.70" y="335.90" class="an">−</text>
<text x="364.50" y="335.90" class="an" textLength="21.7" lengthAdjust="spacingAndGlyphs">0.01</text>
<text x="345.60" y="349.80" class="an" font-style="italic">σ</text>
<text x="354.80" y="349.80" class="an" textLength="6.9" lengthAdjust="spacingAndGlyphs">=</text>
<text x="364.50" y="349.80" class="an" textLength="21.7" lengthAdjust="spacingAndGlyphs">0.20</text>
<text x="403.40" y="216.70" class="pl"><tspan font-style="normal">(</tspan>g<tspan font-style="normal">)</tspan></text>
<text x="527.20" y="335.90" class="an" font-style="italic">P</text>
<text x="536.40" y="335.90" class="an" textLength="6.9" lengthAdjust="spacingAndGlyphs">=</text>
<text x="545.50" y="335.90" class="an" textLength="21.7" lengthAdjust="spacingAndGlyphs">0.37</text>
<text x="526.60" y="349.80" class="an" font-style="italic">σ</text>
<text x="535.80" y="349.80" class="an" textLength="6.9" lengthAdjust="spacingAndGlyphs">=</text>
<text x="545.50" y="349.80" class="an" textLength="21.7" lengthAdjust="spacingAndGlyphs">0.20</text>
<text transform="translate(10.4,81.30) rotate(-90)" text-anchor="middle" class="al"><tspan font-style="italic">R</tspan>52</text>
<text transform="translate(10.4,280.20) rotate(-90)" text-anchor="middle" class="al"><tspan font-style="italic">R</tspan>52</text>
<text x="124.0" y="185.9" text-anchor="middle" class="al"><tspan font-style="italic">U</tspan><tspan font-size="10px" dy="1.8">min</tspan></text>
<text x="304.9" y="185.9" text-anchor="middle" class="al"><tspan font-style="italic">U</tspan></text>
<path d="M298.9 175.8L296.0 181.8L298.9 187.8M310.9 175.8L313.8 181.8L310.9 187.8" stroke="#000" stroke-width="1.15" fill="none"/>
<text x="486.0" y="185.9" text-anchor="middle" class="al"><tspan font-style="italic">L</tspan><tspan font-size="10px" dy="1.8">IR, total dust</tspan></text>
<text x="663.4" y="185.9" text-anchor="middle" class="al"><tspan font-style="italic">M</tspan></text>
<polygon points="672.20,182.70 672.76,183.83 674.01,184.01 673.10,184.89 673.32,186.14 672.20,185.55 671.08,186.14 671.30,184.89 670.39,184.01 671.64,183.83" fill="#000"/>
<text x="123.0" y="384.9" text-anchor="middle" class="al"><tspan font-style="italic">L</tspan><tspan font-size="10px" dy="1.8">IR, PDR dust</tspan><tspan dy="-1.8"> / </tspan><tspan font-style="italic">L</tspan><tspan font-size="10px" dy="1.8">IR, total dust</tspan></text>
<text x="304.5" y="384.9" text-anchor="middle" class="al"><tspan font-style="italic">L</tspan><tspan font-size="10px" dy="1.8">AGN</tspan><tspan dy="-1.8"> / </tspan><tspan font-style="italic">L</tspan><tspan font-size="10px" dy="1.8">IR, total dust</tspan></text>
<text x="485.5" y="384.9" text-anchor="middle" class="al" textLength="76" lengthAdjust="spacingAndGlyphs">SFR / SFR<tspan font-size="10px" dy="1.8">MS</tspan></text>
<rect x="582.4" y="205.2" width="165.2" height="151.5" rx="2.2" fill="#fff" fill-opacity="0.8" stroke="#dcdcdc" stroke-width="0.9"/>
<text x="615.10" y="217.80" textLength="63.90" lengthAdjust="spacingAndGlyphs" class="lg">Daddi+2015</text>
<text x="615.10" y="228.40" textLength="127.90" lengthAdjust="spacingAndGlyphs" class="lg">log<tspan font-size="7.4px" dy="2.2">10</tspan><tspan dy="-2.2"><tspan font-style="italic">y</tspan></tspan> = 0.6 log<tspan font-size="7.4px" dy="2.2">10</tspan><tspan dy="-2.2"><tspan font-style="italic">x</tspan></tspan> − 0.38</text>
<text x="615.10" y="242.20" textLength="48.30" lengthAdjust="spacingAndGlyphs" class="lg">This work</text>
<text x="615.10" y="253.30" textLength="110.60" lengthAdjust="spacingAndGlyphs" class="lg">(log<tspan font-size="7.4px" dy="2.2">10</tspan><tspan dy="-2.2"><tspan font-style="italic">y</tspan></tspan> = <tspan font-style="italic">N</tspan> log<tspan font-size="7.4px" dy="2.2">10</tspan><tspan dy="-2.2"><tspan font-style="italic">x</tspan></tspan> + <tspan font-style="italic">A</tspan>)</text>
<text x="615.10" y="267.50" textLength="46.70" lengthAdjust="spacingAndGlyphs" class="lg">local SFG</text>
<text x="615.10" y="281.00" textLength="66.10" lengthAdjust="spacingAndGlyphs" class="lg">local (U)LIRG</text>
<text x="615.10" y="294.90" textLength="72.00" lengthAdjust="spacingAndGlyphs" class="lg">high-<tspan font-style="italic">z</tspan> MS BzK</text>
<text x="615.10" y="308.40" textLength="73.20" lengthAdjust="spacingAndGlyphs" class="lg">high-<tspan font-style="italic">z</tspan> MS V20</text>
<text x="615.10" y="322.20" textLength="70.80" lengthAdjust="spacingAndGlyphs" class="lg">high-<tspan font-style="italic">z</tspan> SB V20</text>
<text x="615.10" y="336.20" textLength="80.30" lengthAdjust="spacingAndGlyphs" class="lg">high-<tspan font-style="italic">z</tspan> SB FMOS</text>
<text x="615.10" y="350.30" textLength="74.40" lengthAdjust="spacingAndGlyphs" class="lg">high-<tspan font-style="italic">z</tspan> SB SMG</text>
<line x1="586" y1="220.9" x2="606.5" y2="220.9" class="ds"/>
<line x1="586" y1="246.2" x2="606.5" y2="246.2" class="dt"/>
<path d="M590.90 264.20h10.4M596.10 259.00v10.4" stroke="#b3d5fd" stroke-width="1"/>
<rect x="594.57" y="262.67" width="3.06" height="3.06" fill="#cfe4ff" stroke="#3f97fb" stroke-width="1.2"/>
<path d="M590.90 277.70h10.4M596.10 272.50v10.4" stroke="#ffcaa3" stroke-width="1"/>
<rect x="594.17" y="275.76" width="3.87" height="3.87" fill="#ff7f0e"/>
<path d="M590.90 291.60h10.4M596.10 286.40v10.4" stroke="#bde0bd" stroke-width="1"/>
<circle cx="596.10" cy="291.60" r="1.84" fill="#d5ecd5" stroke="#3fa33f" stroke-width="1.3"/>
<path d="M590.90 305.10h10.4M596.10 299.90v10.4" stroke="#bbf2ec" stroke-width="1"/>
<path d="M596.10 303.21L597.99 305.10L596.10 306.99L594.21 305.10Z" fill="#d8f7f3" stroke="#4fd9cc" stroke-width="1.2"/>
<path d="M590.90 318.90h10.4M596.10 313.70v10.4" stroke="#fde598" stroke-width="1"/>
<path d="M594.30 317.55L597.90 317.55L596.10 320.70Z" fill="#f5c400"/>
<path d="M590.90 332.90h10.4M596.10 327.70v10.4" stroke="#ffbaba" stroke-width="1"/>
<polygon points="596.10,328.90 597.28,331.28 599.90,331.66 598.00,333.52 598.45,336.14 596.10,334.90 593.75,336.14 594.20,333.52 592.30,331.66 594.92,331.28" fill="#ff1f1f" stroke="#ff1f1f" stroke-width="0.5" stroke-linejoin="round"/>
<path d="M590.90 347.00h10.4M596.10 341.80v10.4" stroke="#f8aaf8" stroke-width="1"/>
<circle cx="596.10" cy="347.00" r="2.02" fill="#ee11ee"/>
</svg></body></html>
